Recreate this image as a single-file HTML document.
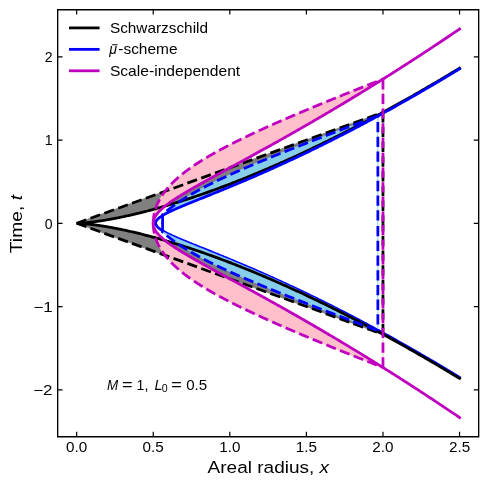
<!DOCTYPE html>
<html><head><meta charset="utf-8"><title>chart</title><style>html,body{margin:0;padding:0;background:#fff;overflow:hidden}body{width:489px;height:488px;font-family:"Liberation Sans",sans-serif}</style></head><body>
<svg width="489" height="488" viewBox="0 0 489 488" style="display:block;will-change:transform">
<rect width="489" height="488" fill="#fff"/>
<defs><clipPath id="ax"><rect x="57.65" y="9.65" width="421.0" height="427.0"/></clipPath></defs>
<g clip-path="url(#ax)" fill="none" stroke-linejoin="miter">
<path transform="translate(0,-0.35)" d="M155.61,223.30 L155.61,223.42 L155.61,223.55 L155.62,223.67 L155.64,223.79 L155.65,223.92 L155.67,224.04 L155.70,224.17 L155.73,224.29 L155.76,224.41 L155.80,224.54 L155.84,224.66 L155.88,224.79 L155.93,224.91 L155.98,225.04 L156.04,225.16 L156.09,225.29 L156.16,225.41 L156.22,225.54 L156.30,225.66 L156.37,225.79 L156.45,225.91 L156.53,226.04 L156.62,226.16 L156.71,226.29 L156.80,226.42 L156.90,226.54 L157.00,226.67 L157.10,226.80 L157.21,226.92 L157.32,227.05 L157.44,227.18 L157.56,227.31 L157.69,227.44 L157.81,227.57 L157.94,227.69 L158.08,227.82 L158.22,227.95 L158.36,228.08 L158.51,228.21 L158.66,228.34 L158.82,228.48 L158.97,228.61 L159.14,228.74 L159.30,228.87 L159.47,229.00 L159.65,229.14 L159.82,229.27 L160.00,229.40 L160.19,229.54 L160.38,229.67 L160.57,229.81 L160.77,229.94 L160.97,230.08 L161.17,230.22 L161.38,230.35 L161.59,230.49 L161.81,230.63 L162.03,230.77 L162.25,230.91 L162.48,231.05 L162.71,231.19 L162.94,231.33 L163.18,231.47 L163.43,231.61 L163.67,231.76 L163.92,231.90 L164.18,232.04 L164.43,232.19 L164.70,232.33 L164.96,232.48 L165.23,232.62 L165.50,232.77 L165.78,232.92 L166.06,233.07 L166.35,233.22 L166.63,233.37 L166.93,233.52 L167.22,233.67 L167.52,233.82 L167.82,233.97 L168.13,234.13 L168.44,234.28 L168.76,234.43 L169.08,234.59 L169.40,234.75 L169.73,234.90 L170.06,235.06 L170.39,235.22 L170.73,235.38 L171.07,235.54 L171.42,235.70 L171.77,235.86 L172.12,236.03 L172.48,236.19 L172.84,236.36 L173.20,236.52 L173.57,236.69 L173.94,236.86 L174.32,237.02 L174.70,237.19 L175.08,237.36 L175.47,237.54 L175.86,237.71 L176.26,237.88 L176.65,238.06 L177.06,238.23 L177.46,238.41 L177.87,238.58 L178.29,238.76 L178.71,238.94 L179.13,239.12 L179.55,239.30 L179.98,239.49 L180.42,239.67 L180.86,239.85 L181.30,240.04 L181.74,240.23 L182.19,240.42 L182.64,240.60 L183.10,240.79 L183.56,240.99 L184.02,241.18 L184.49,241.37 L184.96,241.57 L185.44,241.76 L185.92,241.96 L186.40,242.16 L186.89,242.36 L187.38,242.56 L187.87,242.76 L188.37,242.97 L188.87,243.17 L189.38,243.38 L189.89,243.58 L190.40,243.79 L190.92,244.00 L191.44,244.21 L191.96,244.43 L192.49,244.64 L193.03,244.86 L193.56,245.07 L194.10,245.29 L194.65,245.51 L195.19,245.73 L195.75,245.95 L196.30,246.18 L196.86,246.40 L197.42,246.63 L197.99,246.86 L198.56,247.09 L199.14,247.32 L199.72,247.55 L200.30,247.78 L200.88,248.02 L201.47,248.25 L202.07,248.49 L202.67,248.73 L203.27,248.97 L203.87,249.22 L204.48,249.46 L205.09,249.71 L205.71,249.96 L206.33,250.20 L206.96,250.46 L207.58,250.71 L208.22,250.96 L208.85,251.22 L209.49,251.48 L210.13,251.74 L210.78,252.00 L211.43,252.26 L212.09,252.52 L212.75,252.79 L213.41,253.06 L214.07,253.33 L214.74,253.60 L215.42,253.87 L216.10,254.14 L216.78,254.42 L217.46,254.70 L218.15,254.98 L218.85,255.26 L219.54,255.54 L220.24,255.83 L220.95,256.12 L221.66,256.41 L222.37,256.70 L223.08,256.99 L223.80,257.28 L224.53,257.58 L225.25,257.88 L225.99,258.18 L226.72,258.48 L227.46,258.79 L228.20,259.09 L228.95,259.40 L229.70,259.71 L230.45,260.02 L231.21,260.34 L231.97,260.65 L232.74,260.97 L233.51,261.29 L234.28,261.61 L235.06,261.94 L235.84,262.27 L236.62,262.59 L237.41,262.92 L238.20,263.26 L239.00,263.59 L239.80,263.93 L240.60,264.27 L241.41,264.61 L242.22,264.95 L243.04,265.30 L243.86,265.64 L244.68,265.99 L245.51,266.34 L246.34,266.70 L247.17,267.06 L248.01,267.41 L248.85,267.77 L249.70,268.14 L250.55,268.50 L251.40,268.87 L252.26,269.24 L253.12,269.61 L253.98,269.99 L254.85,270.36 L255.73,270.74 L256.60,271.12 L257.48,271.51 L258.37,271.89 L259.25,272.28 L260.15,272.67 L261.04,273.06 L261.94,273.46 L262.84,273.86 L263.75,274.26 L264.66,274.66 L265.58,275.06 L266.49,275.47 L267.42,275.88 L268.34,276.29 L269.27,276.71 L270.20,277.13 L271.14,277.55 L272.08,277.97 L273.03,278.39 L273.98,278.82 L274.93,279.25 L275.89,279.68 L276.85,280.12 L277.81,280.56 L278.78,281.00 L279.75,281.44 L280.73,281.89 L281.71,282.33 L282.69,282.78 L283.68,283.24 L284.67,283.69 L285.66,284.15 L286.66,284.61 L287.66,285.08 L288.67,285.55 L289.68,286.01 L290.69,286.49 L291.71,286.96 L292.73,287.44 L293.76,287.92 L294.79,288.40 L295.82,288.89 L296.86,289.38 L297.90,289.87 L298.94,290.36 L299.99,290.86 L301.04,291.36 L302.10,291.86 L303.16,292.37 L304.22,292.88 L305.29,293.39 L306.36,293.90 L307.43,294.42 L308.51,294.94 L309.59,295.46 L310.68,295.99 L311.77,296.52 L312.86,297.05 L313.96,297.58 L315.06,298.12 L316.17,298.66 L317.28,299.20 L318.39,299.75 L319.51,300.30 L320.63,300.85 L321.75,301.41 L322.88,301.97 L324.01,302.53 L325.15,303.09 L326.29,303.66 L327.43,304.23 L328.58,304.81 L329.73,305.38 L330.89,305.96 L332.05,306.55 L333.21,307.13 L334.37,307.72 L335.54,308.32 L336.72,308.91 L337.90,309.51 L339.08,310.11 L340.26,310.72 L341.45,311.33 L342.65,311.94 L343.84,312.55 L345.04,313.17 L346.25,313.79 L347.46,314.42 L348.67,315.05 L349.89,315.68 L351.11,316.31 L352.33,316.95 L353.56,317.59 L354.79,318.24 L356.02,318.88 L357.26,319.53 L358.51,320.19 L359.75,320.85 L361.00,321.51 L362.26,322.17 L363.52,322.84 L364.78,323.51 L366.04,324.19 L367.31,324.87 L368.59,325.55 L369.86,326.23 L371.15,326.92 L372.43,327.61 L373.72,328.31 L375.01,329.01 L376.31,329.71 L377.61,330.42 L378.91,331.13 L380.22,331.84 L381.53,332.56 L382.85,333.28 L384.17,334.00 L385.49,334.73 L386.82,335.46 L388.15,336.19 L389.48,336.93 L390.82,337.68 L392.16,338.42 L393.51,339.17 L394.86,339.92 L396.21,340.68 L397.57,341.44 L398.93,342.20 L400.29,342.97 L401.66,343.74 L403.04,344.52 L404.41,345.30 L405.79,346.08 L407.18,346.86 L408.57,347.65 L409.96,348.45 L411.35,349.24 L412.75,350.05 L414.16,350.85 L415.56,351.66 L416.97,352.47 L418.39,353.29 L419.81,354.11 L421.23,354.93 L422.66,355.76 L424.09,356.59 L425.52,357.43 L426.96,358.27 L428.40,359.11 L429.84,359.96 L431.29,360.81 L432.75,361.67 L434.20,362.53 L435.66,363.39 L437.13,364.26 L438.59,365.13 L440.07,366.00 L441.54,366.88 L443.02,367.76 L444.51,368.65 L445.99,369.54 L447.48,370.44 L448.98,371.34 L450.48,372.24 L451.98,373.15 L453.49,374.06 L455.00,374.97 L456.51,375.89 L458.03,376.82 L459.55,377.75" stroke="#0000ff" stroke-width="2.78" stroke-linecap="square" stroke-miterlimit="10"/>
<path d="M76.65,223.30 L76.71,223.30 L76.82,223.30 L76.96,223.30 L77.12,223.29 L77.31,223.29 L77.52,223.28 L77.75,223.28 L77.99,223.27 L78.25,223.26 L78.52,223.25 L78.81,223.23 L79.11,223.22 L79.43,223.20 L79.75,223.19 L80.09,223.17 L80.44,223.15 L80.80,223.12 L81.17,223.10 L81.56,223.07 L81.95,223.05 L82.35,223.02 L82.76,222.99 L83.19,222.95 L83.62,222.92 L84.06,222.88 L84.50,222.84 L84.96,222.80 L85.43,222.76 L85.90,222.72 L86.39,222.67 L86.88,222.62 L87.37,222.57 L87.88,222.52 L88.40,222.47 L88.92,222.41 L89.45,222.35 L89.98,222.29 L90.53,222.23 L91.08,222.17 L91.64,222.10 L92.20,222.03 L92.78,221.96 L93.36,221.89 L93.94,221.81 L94.53,221.73 L95.13,221.65 L95.74,221.57 L96.35,221.49 L96.97,221.40 L97.60,221.32 L98.23,221.22 L98.87,221.13 L99.51,221.04 L100.16,220.94 L100.82,220.84 L101.48,220.74 L102.15,220.63 L102.82,220.53 L103.50,220.42 L104.19,220.31 L104.88,220.20 L105.57,220.08 L106.28,219.96 L106.98,219.84 L107.70,219.72 L108.42,219.59 L109.14,219.47 L109.87,219.34 L110.61,219.20 L111.35,219.07 L112.10,218.93 L112.85,218.79 L113.60,218.65 L114.37,218.50 L115.13,218.36 L115.90,218.21 L116.68,218.06 L117.46,217.90 L118.25,217.74 L119.04,217.59 L119.84,217.42 L120.64,217.26 L121.45,217.09 L122.26,216.92 L123.08,216.75 L123.90,216.58 L124.73,216.40 L125.56,216.22 L126.40,216.04 L127.24,215.85 L128.08,215.66 L128.93,215.47 L129.79,215.28 L130.65,215.09 L131.51,214.89 L132.38,214.69 L133.25,214.48 L134.13,214.28 L135.01,214.07 L135.90,213.86 L136.79,213.64 L137.68,213.43 L138.58,213.21 L139.49,212.99 L140.40,212.76 L141.31,212.54 L142.23,212.31 L143.15,212.07 L144.07,211.84 L145.00,211.60 L145.94,211.36 L146.88,211.12 L147.82,210.87 L148.77,210.62 L149.72,210.37 L150.67,210.11 L151.63,209.86 L152.59,209.60 L153.56,209.33 L154.53,209.07 L155.51,208.80 L156.49,208.53 L157.47,208.26 L158.46,207.98 L159.45,207.70 L160.45,207.42 L161.45,207.13 L162.45,206.85 L163.46,206.55 L164.47,206.26 L165.48,205.97 L166.50,205.67 L167.53,205.36 L168.55,205.06 L169.58,204.75 L170.62,204.44 L171.66,204.13 L172.70,203.81 L173.74,203.49 L174.79,203.17 L175.85,202.84 L176.90,202.52 L177.96,202.19 L179.03,201.85 L180.10,201.52 L181.17,201.18 L182.25,200.83 L183.32,200.49 L184.41,200.14 L185.49,199.79 L186.58,199.44 L187.68,199.08 L188.78,198.72 L189.88,198.35 L190.98,197.99 L192.09,197.62 L193.20,197.25 L194.32,196.87 L195.44,196.50 L196.56,196.11 L197.68,195.73 L198.81,195.34 L199.95,194.95 L201.08,194.56 L202.22,194.17 L203.37,193.77 L204.51,193.37 L205.66,192.96 L206.82,192.55 L207.97,192.14 L209.13,191.73 L210.30,191.31 L211.46,190.89 L212.64,190.47 L213.81,190.04 L214.99,189.61 L216.17,189.18 L217.35,188.75 L218.54,188.31 L219.73,187.87 L220.92,187.42 L222.12,186.97 L223.32,186.52 L224.53,186.07 L225.73,185.61 L226.94,185.15 L228.16,184.69 L229.37,184.22 L230.59,183.75 L231.82,183.28 L233.04,182.81 L234.27,182.33 L235.51,181.85 L236.74,181.36 L237.98,180.87 L239.22,180.38 L240.47,179.89 L241.72,179.39 L242.97,178.89 L244.23,178.39 L245.49,177.88 L246.75,177.37 L248.01,176.86 L249.28,176.34 L250.55,175.82 L251.82,175.30 L253.10,174.77 L254.38,174.24 L255.66,173.71 L256.95,173.17 L258.24,172.64 L259.53,172.09 L260.83,171.55 L262.13,171.00 L263.43,170.45 L264.73,169.89 L266.04,169.34 L267.35,168.78 L268.66,168.21 L269.98,167.64 L271.30,167.07 L272.62,166.50 L273.95,165.92 L275.28,165.34 L276.61,164.76 L277.94,164.17 L279.28,163.58 L280.62,162.99 L281.97,162.39 L283.31,161.79 L284.66,161.19 L286.01,160.58 L287.37,159.97 L288.73,159.36 L290.09,158.74 L291.45,158.12 L292.82,157.50 L294.19,156.87 L295.56,156.24 L296.94,155.61 L298.31,154.97 L299.69,154.33 L301.08,153.69 L302.47,153.04 L303.85,152.39 L305.25,151.74 L306.64,151.08 L308.04,150.42 L309.44,149.76 L310.85,149.10 L312.25,148.43 L313.66,147.75 L315.07,147.08 L316.49,146.40 L317.91,145.71 L319.33,145.03 L320.75,144.34 L322.18,143.65 L323.61,142.95 L325.04,142.25 L326.47,141.55 L327.91,140.84 L329.35,140.13 L330.79,139.42 L332.24,138.70 L333.68,137.98 L335.14,137.26 L336.59,136.53 L338.04,135.80 L339.50,135.07 L340.97,134.33 L342.43,133.59 L343.90,132.85 L345.37,132.10 L346.84,131.35 L348.31,130.59 L349.79,129.84 L351.27,129.08 L352.76,128.31 L354.24,127.54 L355.73,126.77 L357.22,126.00 L358.71,125.22 L360.21,124.44 L361.71,123.65 L363.21,122.86 L364.72,122.07 L366.22,121.28 L367.73,120.48 L369.24,119.68 L370.76,118.87 L372.28,118.06 L373.80,117.25 L375.32,116.43 L376.84,115.61 L378.37,114.79 L379.90,113.96 L381.43,113.13 L382.97,112.30 L382.97,112.30 L381.43,112.86 L379.90,113.41 L378.37,113.97 L376.84,114.52 L375.32,115.07 L373.80,115.62 L372.28,116.18 L370.76,116.72 L369.24,117.27 L367.73,117.82 L366.22,118.37 L364.72,118.91 L363.21,119.46 L361.71,120.00 L360.21,120.55 L358.71,121.09 L357.22,121.63 L355.73,122.17 L354.24,122.71 L352.76,123.25 L351.27,123.79 L349.79,124.32 L348.31,124.86 L346.84,125.39 L345.37,125.93 L343.90,126.46 L342.43,126.99 L340.97,127.52 L339.50,128.05 L338.04,128.58 L336.59,129.11 L335.14,129.63 L333.68,130.16 L332.24,130.68 L330.79,131.21 L329.35,131.73 L327.91,132.25 L326.47,132.77 L325.04,133.29 L323.61,133.81 L322.18,134.33 L320.75,134.85 L319.33,135.36 L317.91,135.88 L316.49,136.39 L315.07,136.90 L313.66,137.42 L312.25,137.93 L310.85,138.44 L309.44,138.94 L308.04,139.45 L306.64,139.96 L305.25,140.46 L303.85,140.97 L302.47,141.47 L301.08,141.97 L299.69,142.48 L298.31,142.98 L296.94,143.48 L295.56,143.97 L294.19,144.47 L292.82,144.97 L291.45,145.46 L290.09,145.96 L288.73,146.45 L287.37,146.94 L286.01,147.43 L284.66,147.92 L283.31,148.41 L281.97,148.90 L280.62,149.39 L279.28,149.87 L277.94,150.36 L276.61,150.84 L275.28,151.32 L273.95,151.81 L272.62,152.29 L271.30,152.77 L269.98,153.24 L268.66,153.72 L267.35,154.20 L266.04,154.67 L264.73,155.15 L263.43,155.62 L262.13,156.09 L260.83,156.56 L259.53,157.03 L258.24,157.50 L256.95,157.97 L255.66,158.43 L254.38,158.90 L253.10,159.36 L251.82,159.82 L250.55,160.28 L249.28,160.75 L248.01,161.20 L246.75,161.66 L245.49,162.12 L244.23,162.58 L242.97,163.03 L241.72,163.48 L240.47,163.94 L239.22,164.39 L237.98,164.84 L236.74,165.29 L235.51,165.74 L234.27,166.18 L233.04,166.63 L231.82,167.07 L230.59,167.52 L229.37,167.96 L228.16,168.40 L226.94,168.84 L225.73,169.28 L224.53,169.72 L223.32,170.15 L222.12,170.59 L220.92,171.02 L219.73,171.45 L218.54,171.88 L217.35,172.31 L216.17,172.74 L214.99,173.17 L213.81,173.60 L212.64,174.02 L211.46,174.45 L210.30,174.87 L209.13,175.29 L207.97,175.71 L206.82,176.13 L205.66,176.55 L204.51,176.97 L203.37,177.38 L202.22,177.80 L201.08,178.21 L199.95,178.62 L198.81,179.03 L197.68,179.44 L196.56,179.85 L195.44,180.26 L194.32,180.66 L193.20,181.07 L192.09,181.47 L190.98,181.87 L189.88,182.27 L188.78,182.67 L187.68,183.07 L186.58,183.46 L185.49,183.86 L184.41,184.25 L183.32,184.64 L182.25,185.04 L181.17,185.43 L180.10,185.81 L179.03,186.20 L177.96,186.59 L176.90,186.97 L175.85,187.35 L174.79,187.74 L173.74,188.12 L172.70,188.50 L171.66,188.87 L170.62,189.25 L169.58,189.62 L168.55,190.00 L167.53,190.37 L166.50,190.74 L165.48,191.11 L164.47,191.48 L163.46,191.84 L162.45,192.21 L161.45,192.57 L160.45,192.94 L159.45,193.30 L158.46,193.66 L157.47,194.01 L156.49,194.37 L155.51,194.72 L154.53,195.08 L153.56,195.43 L152.59,195.78 L151.63,196.13 L150.67,196.48 L149.72,196.82 L148.77,197.17 L147.82,197.51 L146.88,197.85 L145.94,198.19 L145.00,198.53 L144.07,198.87 L143.15,199.20 L142.23,199.54 L141.31,199.87 L140.40,200.20 L139.49,200.53 L138.58,200.86 L137.68,201.18 L136.79,201.51 L135.90,201.83 L135.01,202.15 L134.13,202.47 L133.25,202.79 L132.38,203.11 L131.51,203.42 L130.65,203.73 L129.79,204.05 L128.93,204.35 L128.08,204.66 L127.24,204.97 L126.40,205.27 L125.56,205.58 L124.73,205.88 L123.90,206.18 L123.08,206.48 L122.26,206.77 L121.45,207.07 L120.64,207.36 L119.84,207.65 L119.04,207.94 L118.25,208.23 L117.46,208.51 L116.68,208.79 L115.90,209.08 L115.13,209.36 L114.37,209.63 L113.60,209.91 L112.85,210.18 L112.10,210.46 L111.35,210.73 L110.61,210.99 L109.87,211.26 L109.14,211.53 L108.42,211.79 L107.70,212.05 L106.98,212.31 L106.28,212.56 L105.57,212.82 L104.88,213.07 L104.19,213.32 L103.50,213.57 L102.82,213.82 L102.15,214.06 L101.48,214.30 L100.82,214.54 L100.16,214.78 L99.51,215.02 L98.87,215.25 L98.23,215.48 L97.60,215.71 L96.97,215.94 L96.35,216.16 L95.74,216.38 L95.13,216.60 L94.53,216.82 L93.94,217.03 L93.36,217.25 L92.78,217.46 L92.20,217.66 L91.64,217.87 L91.08,218.07 L90.53,218.27 L89.98,218.47 L89.45,218.66 L88.92,218.85 L88.40,219.04 L87.88,219.23 L87.37,219.41 L86.88,219.59 L86.39,219.77 L85.90,219.95 L85.43,220.12 L84.96,220.29 L84.50,220.45 L84.06,220.62 L83.62,220.78 L83.19,220.93 L82.76,221.08 L82.35,221.23 L81.95,221.38 L81.56,221.52 L81.17,221.66 L80.80,221.80 L80.44,221.93 L80.09,222.05 L79.75,222.18 L79.43,222.29 L79.11,222.41 L78.81,222.52 L78.52,222.62 L78.25,222.72 L77.99,222.81 L77.75,222.90 L77.52,222.98 L77.31,223.06 L77.12,223.13 L76.96,223.19 L76.82,223.24 L76.71,223.28 L76.65,223.30Z" fill="#808080" stroke="#808080" stroke-width="1" stroke-linejoin="round"/>
<path d="M76.65,223.30 L76.71,223.30 L76.82,223.30 L76.96,223.30 L77.12,223.31 L77.31,223.31 L77.52,223.32 L77.75,223.32 L77.99,223.33 L78.25,223.34 L78.52,223.35 L78.81,223.37 L79.11,223.38 L79.43,223.40 L79.75,223.41 L80.09,223.43 L80.44,223.45 L80.80,223.48 L81.17,223.50 L81.56,223.53 L81.95,223.55 L82.35,223.58 L82.76,223.61 L83.19,223.65 L83.62,223.68 L84.06,223.72 L84.50,223.76 L84.96,223.80 L85.43,223.84 L85.90,223.88 L86.39,223.93 L86.88,223.98 L87.37,224.03 L87.88,224.08 L88.40,224.13 L88.92,224.19 L89.45,224.25 L89.98,224.31 L90.53,224.37 L91.08,224.43 L91.64,224.50 L92.20,224.57 L92.78,224.64 L93.36,224.71 L93.94,224.79 L94.53,224.87 L95.13,224.95 L95.74,225.03 L96.35,225.11 L96.97,225.20 L97.60,225.28 L98.23,225.38 L98.87,225.47 L99.51,225.56 L100.16,225.66 L100.82,225.76 L101.48,225.86 L102.15,225.97 L102.82,226.07 L103.50,226.18 L104.19,226.29 L104.88,226.40 L105.57,226.52 L106.28,226.64 L106.98,226.76 L107.70,226.88 L108.42,227.01 L109.14,227.13 L109.87,227.26 L110.61,227.40 L111.35,227.53 L112.10,227.67 L112.85,227.81 L113.60,227.95 L114.37,228.10 L115.13,228.24 L115.90,228.39 L116.68,228.54 L117.46,228.70 L118.25,228.86 L119.04,229.01 L119.84,229.18 L120.64,229.34 L121.45,229.51 L122.26,229.68 L123.08,229.85 L123.90,230.02 L124.73,230.20 L125.56,230.38 L126.40,230.56 L127.24,230.75 L128.08,230.94 L128.93,231.13 L129.79,231.32 L130.65,231.51 L131.51,231.71 L132.38,231.91 L133.25,232.12 L134.13,232.32 L135.01,232.53 L135.90,232.74 L136.79,232.96 L137.68,233.17 L138.58,233.39 L139.49,233.61 L140.40,233.84 L141.31,234.06 L142.23,234.29 L143.15,234.53 L144.07,234.76 L145.00,235.00 L145.94,235.24 L146.88,235.48 L147.82,235.73 L148.77,235.98 L149.72,236.23 L150.67,236.49 L151.63,236.74 L152.59,237.00 L153.56,237.27 L154.53,237.53 L155.51,237.80 L156.49,238.07 L157.47,238.34 L158.46,238.62 L159.45,238.90 L160.45,239.18 L161.45,239.47 L162.45,239.75 L163.46,240.05 L164.47,240.34 L165.48,240.63 L166.50,240.93 L167.53,241.24 L168.55,241.54 L169.58,241.85 L170.62,242.16 L171.66,242.47 L172.70,242.79 L173.74,243.11 L174.79,243.43 L175.85,243.76 L176.90,244.08 L177.96,244.41 L179.03,244.75 L180.10,245.08 L181.17,245.42 L182.25,245.77 L183.32,246.11 L184.41,246.46 L185.49,246.81 L186.58,247.16 L187.68,247.52 L188.78,247.88 L189.88,248.25 L190.98,248.61 L192.09,248.98 L193.20,249.35 L194.32,249.73 L195.44,250.10 L196.56,250.49 L197.68,250.87 L198.81,251.26 L199.95,251.65 L201.08,252.04 L202.22,252.43 L203.37,252.83 L204.51,253.23 L205.66,253.64 L206.82,254.05 L207.97,254.46 L209.13,254.87 L210.30,255.29 L211.46,255.71 L212.64,256.13 L213.81,256.56 L214.99,256.99 L216.17,257.42 L217.35,257.85 L218.54,258.29 L219.73,258.73 L220.92,259.18 L222.12,259.63 L223.32,260.08 L224.53,260.53 L225.73,260.99 L226.94,261.45 L228.16,261.91 L229.37,262.38 L230.59,262.85 L231.82,263.32 L233.04,263.79 L234.27,264.27 L235.51,264.75 L236.74,265.24 L237.98,265.73 L239.22,266.22 L240.47,266.71 L241.72,267.21 L242.97,267.71 L244.23,268.21 L245.49,268.72 L246.75,269.23 L248.01,269.74 L249.28,270.26 L250.55,270.78 L251.82,271.30 L253.10,271.83 L254.38,272.36 L255.66,272.89 L256.95,273.43 L258.24,273.96 L259.53,274.51 L260.83,275.05 L262.13,275.60 L263.43,276.15 L264.73,276.71 L266.04,277.26 L267.35,277.82 L268.66,278.39 L269.98,278.96 L271.30,279.53 L272.62,280.10 L273.95,280.68 L275.28,281.26 L276.61,281.84 L277.94,282.43 L279.28,283.02 L280.62,283.61 L281.97,284.21 L283.31,284.81 L284.66,285.41 L286.01,286.02 L287.37,286.63 L288.73,287.24 L290.09,287.86 L291.45,288.48 L292.82,289.10 L294.19,289.73 L295.56,290.36 L296.94,290.99 L298.31,291.63 L299.69,292.27 L301.08,292.91 L302.47,293.56 L303.85,294.21 L305.25,294.86 L306.64,295.52 L308.04,296.18 L309.44,296.84 L310.85,297.50 L312.25,298.17 L313.66,298.85 L315.07,299.52 L316.49,300.20 L317.91,300.89 L319.33,301.57 L320.75,302.26 L322.18,302.95 L323.61,303.65 L325.04,304.35 L326.47,305.05 L327.91,305.76 L329.35,306.47 L330.79,307.18 L332.24,307.90 L333.68,308.62 L335.14,309.34 L336.59,310.07 L338.04,310.80 L339.50,311.53 L340.97,312.27 L342.43,313.01 L343.90,313.75 L345.37,314.50 L346.84,315.25 L348.31,316.01 L349.79,316.76 L351.27,317.52 L352.76,318.29 L354.24,319.06 L355.73,319.83 L357.22,320.60 L358.71,321.38 L360.21,322.16 L361.71,322.95 L363.21,323.74 L364.72,324.53 L366.22,325.32 L367.73,326.12 L369.24,326.92 L370.76,327.73 L372.28,328.54 L373.80,329.35 L375.32,330.17 L376.84,330.99 L378.37,331.81 L379.90,332.64 L381.43,333.47 L382.97,334.30 L382.97,334.30 L381.43,333.74 L379.90,333.19 L378.37,332.63 L376.84,332.08 L375.32,331.53 L373.80,330.98 L372.28,330.42 L370.76,329.88 L369.24,329.33 L367.73,328.78 L366.22,328.23 L364.72,327.69 L363.21,327.14 L361.71,326.60 L360.21,326.05 L358.71,325.51 L357.22,324.97 L355.73,324.43 L354.24,323.89 L352.76,323.35 L351.27,322.81 L349.79,322.28 L348.31,321.74 L346.84,321.21 L345.37,320.67 L343.90,320.14 L342.43,319.61 L340.97,319.08 L339.50,318.55 L338.04,318.02 L336.59,317.49 L335.14,316.97 L333.68,316.44 L332.24,315.92 L330.79,315.39 L329.35,314.87 L327.91,314.35 L326.47,313.83 L325.04,313.31 L323.61,312.79 L322.18,312.27 L320.75,311.75 L319.33,311.24 L317.91,310.72 L316.49,310.21 L315.07,309.70 L313.66,309.18 L312.25,308.67 L310.85,308.16 L309.44,307.66 L308.04,307.15 L306.64,306.64 L305.25,306.14 L303.85,305.63 L302.47,305.13 L301.08,304.63 L299.69,304.12 L298.31,303.62 L296.94,303.12 L295.56,302.63 L294.19,302.13 L292.82,301.63 L291.45,301.14 L290.09,300.64 L288.73,300.15 L287.37,299.66 L286.01,299.17 L284.66,298.68 L283.31,298.19 L281.97,297.70 L280.62,297.21 L279.28,296.73 L277.94,296.24 L276.61,295.76 L275.28,295.28 L273.95,294.79 L272.62,294.31 L271.30,293.83 L269.98,293.36 L268.66,292.88 L267.35,292.40 L266.04,291.93 L264.73,291.45 L263.43,290.98 L262.13,290.51 L260.83,290.04 L259.53,289.57 L258.24,289.10 L256.95,288.63 L255.66,288.17 L254.38,287.70 L253.10,287.24 L251.82,286.78 L250.55,286.32 L249.28,285.85 L248.01,285.40 L246.75,284.94 L245.49,284.48 L244.23,284.02 L242.97,283.57 L241.72,283.12 L240.47,282.66 L239.22,282.21 L237.98,281.76 L236.74,281.31 L235.51,280.86 L234.27,280.42 L233.04,279.97 L231.82,279.53 L230.59,279.08 L229.37,278.64 L228.16,278.20 L226.94,277.76 L225.73,277.32 L224.53,276.88 L223.32,276.45 L222.12,276.01 L220.92,275.58 L219.73,275.15 L218.54,274.72 L217.35,274.29 L216.17,273.86 L214.99,273.43 L213.81,273.00 L212.64,272.58 L211.46,272.15 L210.30,271.73 L209.13,271.31 L207.97,270.89 L206.82,270.47 L205.66,270.05 L204.51,269.63 L203.37,269.22 L202.22,268.80 L201.08,268.39 L199.95,267.98 L198.81,267.57 L197.68,267.16 L196.56,266.75 L195.44,266.34 L194.32,265.94 L193.20,265.53 L192.09,265.13 L190.98,264.73 L189.88,264.33 L188.78,263.93 L187.68,263.53 L186.58,263.14 L185.49,262.74 L184.41,262.35 L183.32,261.96 L182.25,261.56 L181.17,261.17 L180.10,260.79 L179.03,260.40 L177.96,260.01 L176.90,259.63 L175.85,259.25 L174.79,258.86 L173.74,258.48 L172.70,258.10 L171.66,257.73 L170.62,257.35 L169.58,256.98 L168.55,256.60 L167.53,256.23 L166.50,255.86 L165.48,255.49 L164.47,255.12 L163.46,254.76 L162.45,254.39 L161.45,254.03 L160.45,253.66 L159.45,253.30 L158.46,252.94 L157.47,252.59 L156.49,252.23 L155.51,251.88 L154.53,251.52 L153.56,251.17 L152.59,250.82 L151.63,250.47 L150.67,250.12 L149.72,249.78 L148.77,249.43 L147.82,249.09 L146.88,248.75 L145.94,248.41 L145.00,248.07 L144.07,247.73 L143.15,247.40 L142.23,247.06 L141.31,246.73 L140.40,246.40 L139.49,246.07 L138.58,245.74 L137.68,245.42 L136.79,245.09 L135.90,244.77 L135.01,244.45 L134.13,244.13 L133.25,243.81 L132.38,243.49 L131.51,243.18 L130.65,242.87 L129.79,242.55 L128.93,242.25 L128.08,241.94 L127.24,241.63 L126.40,241.33 L125.56,241.02 L124.73,240.72 L123.90,240.42 L123.08,240.12 L122.26,239.83 L121.45,239.53 L120.64,239.24 L119.84,238.95 L119.04,238.66 L118.25,238.37 L117.46,238.09 L116.68,237.81 L115.90,237.52 L115.13,237.24 L114.37,236.97 L113.60,236.69 L112.85,236.42 L112.10,236.14 L111.35,235.87 L110.61,235.61 L109.87,235.34 L109.14,235.07 L108.42,234.81 L107.70,234.55 L106.98,234.29 L106.28,234.04 L105.57,233.78 L104.88,233.53 L104.19,233.28 L103.50,233.03 L102.82,232.78 L102.15,232.54 L101.48,232.30 L100.82,232.06 L100.16,231.82 L99.51,231.58 L98.87,231.35 L98.23,231.12 L97.60,230.89 L96.97,230.66 L96.35,230.44 L95.74,230.22 L95.13,230.00 L94.53,229.78 L93.94,229.57 L93.36,229.35 L92.78,229.14 L92.20,228.94 L91.64,228.73 L91.08,228.53 L90.53,228.33 L89.98,228.13 L89.45,227.94 L88.92,227.75 L88.40,227.56 L87.88,227.37 L87.37,227.19 L86.88,227.01 L86.39,226.83 L85.90,226.65 L85.43,226.48 L84.96,226.31 L84.50,226.15 L84.06,225.98 L83.62,225.82 L83.19,225.67 L82.76,225.52 L82.35,225.37 L81.95,225.22 L81.56,225.08 L81.17,224.94 L80.80,224.80 L80.44,224.67 L80.09,224.55 L79.75,224.42 L79.43,224.31 L79.11,224.19 L78.81,224.08 L78.52,223.98 L78.25,223.88 L77.99,223.79 L77.75,223.70 L77.52,223.62 L77.31,223.54 L77.12,223.47 L76.96,223.41 L76.82,223.36 L76.71,223.32 L76.65,223.30Z" fill="#808080" stroke="#808080" stroke-width="1" stroke-linejoin="round"/>
<path d="M162.56,215.50 L162.61,215.47 L162.68,215.43 L162.78,215.37 L162.90,215.30 L163.03,215.22 L163.18,215.13 L163.34,215.04 L163.51,214.94 L163.69,214.84 L163.88,214.72 L164.08,214.61 L164.29,214.49 L164.52,214.37 L164.75,214.24 L164.98,214.11 L165.23,213.98 L165.48,213.84 L165.74,213.70 L166.01,213.56 L166.29,213.41 L166.57,213.27 L166.86,213.12 L167.16,212.96 L167.46,212.81 L167.77,212.66 L168.08,212.50 L168.41,212.34 L168.73,212.18 L169.07,212.01 L169.41,211.85 L169.75,211.68 L170.10,211.52 L170.46,211.35 L170.82,211.18 L171.19,211.00 L171.56,210.83 L171.94,210.66 L172.32,210.48 L172.71,210.30 L173.10,210.12 L173.50,209.94 L173.90,209.76 L174.31,209.58 L174.72,209.40 L175.13,209.21 L175.56,209.03 L175.98,208.84 L176.41,208.65 L176.85,208.46 L177.29,208.27 L177.73,208.08 L178.18,207.88 L178.63,207.69 L179.09,207.50 L179.55,207.30 L180.01,207.10 L180.48,206.90 L180.96,206.70 L181.44,206.50 L181.92,206.30 L182.40,206.10 L182.89,205.89 L183.39,205.69 L183.88,205.48 L184.39,205.27 L184.89,205.06 L185.40,204.85 L185.91,204.64 L186.43,204.43 L186.95,204.21 L187.48,204.00 L188.00,203.78 L188.54,203.57 L189.07,203.35 L189.61,203.13 L190.15,202.91 L190.70,202.69 L191.25,202.46 L191.80,202.24 L192.36,202.01 L192.92,201.79 L193.48,201.56 L194.05,201.33 L194.62,201.10 L195.20,200.87 L195.77,200.64 L196.35,200.40 L196.94,200.17 L197.53,199.93 L198.12,199.69 L198.71,199.46 L199.31,199.22 L199.91,198.97 L200.51,198.73 L201.12,198.49 L201.73,198.24 L202.35,198.00 L202.96,197.75 L203.58,197.50 L204.20,197.25 L204.83,197.00 L205.46,196.75 L206.09,196.49 L206.73,196.24 L207.37,195.98 L208.01,195.72 L208.65,195.46 L209.30,195.20 L209.95,194.94 L210.60,194.68 L211.26,194.41 L211.92,194.14 L212.58,193.88 L213.25,193.61 L213.92,193.34 L214.59,193.07 L215.26,192.79 L215.94,192.52 L216.62,192.24 L217.30,191.97 L217.99,191.69 L218.68,191.41 L219.37,191.13 L220.06,190.84 L220.76,190.56 L221.46,190.27 L222.16,189.99 L222.87,189.70 L223.57,189.41 L224.29,189.12 L225.00,188.83 L225.72,188.53 L226.43,188.24 L227.16,187.94 L227.88,187.64 L228.61,187.34 L229.34,187.04 L230.07,186.74 L230.80,186.43 L231.54,186.13 L232.28,185.82 L233.03,185.51 L233.77,185.20 L234.52,184.89 L235.27,184.57 L236.02,184.26 L236.78,183.94 L237.54,183.62 L238.30,183.30 L239.06,182.98 L239.83,182.66 L240.60,182.34 L241.37,182.01 L242.14,181.68 L242.92,181.35 L243.70,181.02 L244.48,180.69 L245.26,180.36 L246.05,180.02 L246.84,179.69 L247.63,179.35 L248.42,179.01 L249.22,178.67 L250.02,178.32 L250.82,177.98 L251.62,177.63 L252.43,177.29 L253.24,176.94 L254.05,176.59 L254.86,176.23 L255.68,175.88 L256.50,175.52 L257.32,175.17 L258.14,174.81 L258.96,174.45 L259.79,174.08 L260.62,173.72 L261.45,173.35 L262.29,172.99 L263.12,172.62 L263.96,172.25 L264.81,171.88 L265.65,171.50 L266.50,171.13 L267.34,170.75 L268.19,170.37 L269.05,169.99 L269.90,169.61 L270.76,169.22 L271.62,168.84 L272.48,168.45 L273.35,168.06 L274.21,167.67 L275.08,167.28 L275.95,166.89 L276.83,166.49 L277.70,166.09 L278.58,165.69 L279.46,165.29 L280.34,164.89 L281.23,164.49 L282.11,164.08 L283.00,163.67 L283.89,163.26 L284.79,162.85 L285.68,162.44 L286.58,162.02 L287.48,161.61 L288.38,161.19 L289.28,160.77 L290.19,160.35 L291.10,159.92 L292.01,159.50 L292.92,159.07 L293.84,158.64 L294.75,158.21 L295.67,157.78 L296.59,157.35 L297.52,156.91 L298.44,156.47 L299.37,156.03 L300.30,155.59 L301.23,155.15 L302.17,154.70 L303.10,154.26 L304.04,153.81 L304.98,153.36 L305.92,152.91 L306.87,152.45 L307.81,152.00 L308.76,151.54 L309.71,151.08 L310.66,150.62 L311.62,150.16 L312.57,149.69 L313.53,149.23 L314.49,148.76 L315.46,148.29 L316.42,147.82 L317.39,147.34 L318.36,146.87 L319.33,146.39 L320.30,145.91 L321.27,145.43 L322.25,144.94 L323.23,144.46 L324.21,143.97 L325.19,143.48 L326.18,142.99 L327.16,142.50 L328.15,142.01 L329.14,141.51 L330.14,141.01 L331.13,140.51 L332.13,140.01 L333.12,139.51 L334.13,139.00 L335.13,138.50 L336.13,137.99 L337.14,137.48 L338.15,136.96 L339.16,136.45 L340.17,135.93 L341.18,135.41 L342.20,134.89 L343.22,134.37 L344.24,133.85 L345.26,133.32 L346.28,132.79 L347.31,132.26 L348.33,131.73 L349.36,131.20 L350.39,130.66 L351.43,130.12 L352.46,129.58 L353.50,129.04 L354.54,128.50 L355.58,127.95 L356.62,127.40 L357.66,126.85 L358.71,126.30 L359.76,125.75 L360.81,125.20 L361.86,124.64 L362.91,124.08 L363.97,123.52 L365.03,122.96 L366.08,122.39 L367.15,121.82 L368.21,121.25 L369.27,120.68 L370.34,120.11 L371.41,119.54 L372.48,118.96 L373.55,118.38 L374.62,117.80 L375.70,117.22 L376.78,116.63 L377.86,116.05 L377.86,115.98 L376.78,116.38 L375.70,116.78 L374.62,117.19 L373.55,117.59 L372.48,117.99 L371.41,118.39 L370.34,118.79 L369.27,119.19 L368.21,119.59 L367.15,119.99 L366.08,120.39 L365.03,120.79 L363.97,121.19 L362.91,121.59 L361.86,121.98 L360.81,122.38 L359.76,122.77 L358.71,123.17 L357.66,123.56 L356.62,123.96 L355.58,124.35 L354.54,124.74 L353.50,125.14 L352.46,125.53 L351.43,125.92 L350.39,126.31 L349.36,126.70 L348.33,127.09 L347.31,127.48 L346.28,127.87 L345.26,128.26 L344.24,128.65 L343.22,129.03 L342.20,129.42 L341.18,129.81 L340.17,130.19 L339.16,130.58 L338.15,130.96 L337.14,131.34 L336.13,131.73 L335.13,132.11 L334.13,132.49 L333.12,132.88 L332.13,133.26 L331.13,133.64 L330.14,134.02 L329.14,134.40 L328.15,134.78 L327.16,135.16 L326.18,135.54 L325.19,135.91 L324.21,136.29 L323.23,136.67 L322.25,137.04 L321.27,137.42 L320.30,137.79 L319.33,138.17 L318.36,138.54 L317.39,138.92 L316.42,139.29 L315.46,139.66 L314.49,140.04 L313.53,140.41 L312.57,140.78 L311.62,141.15 L310.66,141.52 L309.71,141.89 L308.76,142.26 L307.81,142.63 L306.87,143.00 L305.92,143.37 L304.98,143.73 L304.04,144.10 L303.10,144.47 L302.17,144.83 L301.23,145.20 L300.30,145.56 L299.37,145.93 L298.44,146.29 L297.52,146.65 L296.59,147.02 L295.67,147.38 L294.75,147.74 L293.84,148.10 L292.92,148.47 L292.01,148.83 L291.10,149.19 L290.19,149.55 L289.28,149.91 L288.38,150.26 L287.48,150.62 L286.58,150.98 L285.68,151.34 L284.79,151.70 L283.89,152.05 L283.00,152.41 L282.11,152.76 L281.23,153.12 L280.34,153.47 L279.46,153.83 L278.58,154.18 L277.70,154.54 L276.83,154.89 L275.95,155.24 L275.08,155.59 L274.21,155.95 L273.35,156.30 L272.48,156.65 L271.62,157.00 L270.76,157.35 L269.90,157.70 L269.05,158.05 L268.19,158.40 L267.34,158.75 L266.50,159.09 L265.65,159.44 L264.81,159.79 L263.96,160.14 L263.12,160.48 L262.29,160.83 L261.45,161.17 L260.62,161.52 L259.79,161.87 L258.96,162.21 L258.14,162.55 L257.32,162.90 L256.50,163.24 L255.68,163.59 L254.86,163.93 L254.05,164.27 L253.24,164.61 L252.43,164.95 L251.62,165.30 L250.82,165.64 L250.02,165.98 L249.22,166.32 L248.42,166.66 L247.63,167.00 L246.84,167.34 L246.05,167.68 L245.26,168.02 L244.48,168.35 L243.70,168.69 L242.92,169.03 L242.14,169.37 L241.37,169.71 L240.60,170.04 L239.83,170.38 L239.06,170.72 L238.30,171.05 L237.54,171.39 L236.78,171.72 L236.02,172.06 L235.27,172.39 L234.52,172.73 L233.77,173.06 L233.03,173.40 L232.28,173.73 L231.54,174.06 L230.80,174.40 L230.07,174.73 L229.34,175.06 L228.61,175.40 L227.88,175.73 L227.16,176.06 L226.43,176.39 L225.72,176.72 L225.00,177.06 L224.29,177.39 L223.57,177.72 L222.87,178.05 L222.16,178.38 L221.46,178.71 L220.76,179.04 L220.06,179.37 L219.37,179.70 L218.68,180.03 L217.99,180.36 L217.30,180.69 L216.62,181.02 L215.94,181.35 L215.26,181.68 L214.59,182.01 L213.92,182.33 L213.25,182.66 L212.58,182.99 L211.92,183.32 L211.26,183.65 L210.60,183.97 L209.95,184.30 L209.30,184.63 L208.65,184.96 L208.01,185.28 L207.37,185.61 L206.73,185.94 L206.09,186.26 L205.46,186.59 L204.83,186.91 L204.20,187.24 L203.58,187.57 L202.96,187.89 L202.35,188.22 L201.73,188.54 L201.12,188.87 L200.51,189.19 L199.91,189.52 L199.31,189.84 L198.71,190.17 L198.12,190.49 L197.53,190.81 L196.94,191.14 L196.35,191.46 L195.77,191.79 L195.20,192.11 L194.62,192.43 L194.05,192.75 L193.48,193.08 L192.92,193.40 L192.36,193.72 L191.80,194.04 L191.25,194.36 L190.70,194.68 L190.15,195.00 L189.61,195.32 L189.07,195.64 L188.54,195.96 L188.00,196.28 L187.48,196.60 L186.95,196.92 L186.43,197.24 L185.91,197.56 L185.40,197.87 L184.89,198.19 L184.39,198.51 L183.88,198.82 L183.39,199.14 L182.89,199.45 L182.40,199.76 L181.92,200.08 L181.44,200.39 L180.96,200.70 L180.48,201.01 L180.01,201.32 L179.55,201.63 L179.09,201.94 L178.63,202.24 L178.18,202.55 L177.73,202.85 L177.29,203.16 L176.85,203.46 L176.41,203.76 L175.98,204.06 L175.56,204.36 L175.13,204.66 L174.72,204.96 L174.31,205.25 L173.90,205.54 L173.50,205.84 L173.10,206.12 L172.71,206.41 L172.32,206.70 L171.94,206.98 L171.56,207.26 L171.19,207.54 L170.82,207.82 L170.46,208.10 L170.10,208.37 L169.75,208.64 L169.41,208.91 L169.07,209.17 L168.73,209.43 L168.41,209.69 L168.08,209.94 L167.77,210.20 L167.46,210.44 L167.16,210.69 L166.86,210.93 L166.57,211.16 L166.29,211.40 L166.01,211.62 L165.74,211.85 L165.48,212.06 L165.23,212.27 L164.98,212.48 L164.75,212.68 L164.52,212.88 L164.29,213.06 L164.08,213.25 L163.88,213.42 L163.69,213.59 L163.51,213.74 L163.34,213.89 L163.18,214.03 L163.03,214.16 L162.90,214.27 L162.78,214.38 L162.68,214.46 L162.61,214.53 L162.56,214.57Z" fill="#87ceeb" stroke="#87ceeb" stroke-width="1" stroke-linejoin="round"/>
<path d="M162.56,231.10 L162.61,231.13 L162.68,231.17 L162.78,231.23 L162.90,231.30 L163.03,231.38 L163.18,231.47 L163.34,231.56 L163.51,231.66 L163.69,231.76 L163.88,231.88 L164.08,231.99 L164.29,232.11 L164.52,232.23 L164.75,232.36 L164.98,232.49 L165.23,232.62 L165.48,232.76 L165.74,232.90 L166.01,233.04 L166.29,233.19 L166.57,233.33 L166.86,233.48 L167.16,233.64 L167.46,233.79 L167.77,233.94 L168.08,234.10 L168.41,234.26 L168.73,234.42 L169.07,234.59 L169.41,234.75 L169.75,234.92 L170.10,235.08 L170.46,235.25 L170.82,235.42 L171.19,235.60 L171.56,235.77 L171.94,235.94 L172.32,236.12 L172.71,236.30 L173.10,236.48 L173.50,236.66 L173.90,236.84 L174.31,237.02 L174.72,237.20 L175.13,237.39 L175.56,237.57 L175.98,237.76 L176.41,237.95 L176.85,238.14 L177.29,238.33 L177.73,238.52 L178.18,238.72 L178.63,238.91 L179.09,239.10 L179.55,239.30 L180.01,239.50 L180.48,239.70 L180.96,239.90 L181.44,240.10 L181.92,240.30 L182.40,240.50 L182.89,240.71 L183.39,240.91 L183.88,241.12 L184.39,241.33 L184.89,241.54 L185.40,241.75 L185.91,241.96 L186.43,242.17 L186.95,242.39 L187.48,242.60 L188.00,242.82 L188.54,243.03 L189.07,243.25 L189.61,243.47 L190.15,243.69 L190.70,243.91 L191.25,244.14 L191.80,244.36 L192.36,244.59 L192.92,244.81 L193.48,245.04 L194.05,245.27 L194.62,245.50 L195.20,245.73 L195.77,245.96 L196.35,246.20 L196.94,246.43 L197.53,246.67 L198.12,246.91 L198.71,247.14 L199.31,247.38 L199.91,247.63 L200.51,247.87 L201.12,248.11 L201.73,248.36 L202.35,248.60 L202.96,248.85 L203.58,249.10 L204.20,249.35 L204.83,249.60 L205.46,249.85 L206.09,250.11 L206.73,250.36 L207.37,250.62 L208.01,250.88 L208.65,251.14 L209.30,251.40 L209.95,251.66 L210.60,251.92 L211.26,252.19 L211.92,252.46 L212.58,252.72 L213.25,252.99 L213.92,253.26 L214.59,253.53 L215.26,253.81 L215.94,254.08 L216.62,254.36 L217.30,254.63 L217.99,254.91 L218.68,255.19 L219.37,255.47 L220.06,255.76 L220.76,256.04 L221.46,256.33 L222.16,256.61 L222.87,256.90 L223.57,257.19 L224.29,257.48 L225.00,257.77 L225.72,258.07 L226.43,258.36 L227.16,258.66 L227.88,258.96 L228.61,259.26 L229.34,259.56 L230.07,259.86 L230.80,260.17 L231.54,260.47 L232.28,260.78 L233.03,261.09 L233.77,261.40 L234.52,261.71 L235.27,262.03 L236.02,262.34 L236.78,262.66 L237.54,262.98 L238.30,263.30 L239.06,263.62 L239.83,263.94 L240.60,264.26 L241.37,264.59 L242.14,264.92 L242.92,265.25 L243.70,265.58 L244.48,265.91 L245.26,266.24 L246.05,266.58 L246.84,266.91 L247.63,267.25 L248.42,267.59 L249.22,267.93 L250.02,268.28 L250.82,268.62 L251.62,268.97 L252.43,269.31 L253.24,269.66 L254.05,270.01 L254.86,270.37 L255.68,270.72 L256.50,271.08 L257.32,271.43 L258.14,271.79 L258.96,272.15 L259.79,272.52 L260.62,272.88 L261.45,273.25 L262.29,273.61 L263.12,273.98 L263.96,274.35 L264.81,274.72 L265.65,275.10 L266.50,275.47 L267.34,275.85 L268.19,276.23 L269.05,276.61 L269.90,276.99 L270.76,277.38 L271.62,277.76 L272.48,278.15 L273.35,278.54 L274.21,278.93 L275.08,279.32 L275.95,279.71 L276.83,280.11 L277.70,280.51 L278.58,280.91 L279.46,281.31 L280.34,281.71 L281.23,282.11 L282.11,282.52 L283.00,282.93 L283.89,283.34 L284.79,283.75 L285.68,284.16 L286.58,284.58 L287.48,284.99 L288.38,285.41 L289.28,285.83 L290.19,286.25 L291.10,286.68 L292.01,287.10 L292.92,287.53 L293.84,287.96 L294.75,288.39 L295.67,288.82 L296.59,289.25 L297.52,289.69 L298.44,290.13 L299.37,290.57 L300.30,291.01 L301.23,291.45 L302.17,291.90 L303.10,292.34 L304.04,292.79 L304.98,293.24 L305.92,293.69 L306.87,294.15 L307.81,294.60 L308.76,295.06 L309.71,295.52 L310.66,295.98 L311.62,296.44 L312.57,296.91 L313.53,297.37 L314.49,297.84 L315.46,298.31 L316.42,298.78 L317.39,299.26 L318.36,299.73 L319.33,300.21 L320.30,300.69 L321.27,301.17 L322.25,301.66 L323.23,302.14 L324.21,302.63 L325.19,303.12 L326.18,303.61 L327.16,304.10 L328.15,304.59 L329.14,305.09 L330.14,305.59 L331.13,306.09 L332.13,306.59 L333.12,307.09 L334.13,307.60 L335.13,308.10 L336.13,308.61 L337.14,309.12 L338.15,309.64 L339.16,310.15 L340.17,310.67 L341.18,311.19 L342.20,311.71 L343.22,312.23 L344.24,312.75 L345.26,313.28 L346.28,313.81 L347.31,314.34 L348.33,314.87 L349.36,315.40 L350.39,315.94 L351.43,316.48 L352.46,317.02 L353.50,317.56 L354.54,318.10 L355.58,318.65 L356.62,319.20 L357.66,319.75 L358.71,320.30 L359.76,320.85 L360.81,321.40 L361.86,321.96 L362.91,322.52 L363.97,323.08 L365.03,323.64 L366.08,324.21 L367.15,324.78 L368.21,325.35 L369.27,325.92 L370.34,326.49 L371.41,327.06 L372.48,327.64 L373.55,328.22 L374.62,328.80 L375.70,329.38 L376.78,329.97 L377.86,330.55 L377.86,330.62 L376.78,330.22 L375.70,329.82 L374.62,329.41 L373.55,329.01 L372.48,328.61 L371.41,328.21 L370.34,327.81 L369.27,327.41 L368.21,327.01 L367.15,326.61 L366.08,326.21 L365.03,325.81 L363.97,325.41 L362.91,325.01 L361.86,324.62 L360.81,324.22 L359.76,323.83 L358.71,323.43 L357.66,323.04 L356.62,322.64 L355.58,322.25 L354.54,321.86 L353.50,321.46 L352.46,321.07 L351.43,320.68 L350.39,320.29 L349.36,319.90 L348.33,319.51 L347.31,319.12 L346.28,318.73 L345.26,318.34 L344.24,317.95 L343.22,317.57 L342.20,317.18 L341.18,316.79 L340.17,316.41 L339.16,316.02 L338.15,315.64 L337.14,315.26 L336.13,314.87 L335.13,314.49 L334.13,314.11 L333.12,313.72 L332.13,313.34 L331.13,312.96 L330.14,312.58 L329.14,312.20 L328.15,311.82 L327.16,311.44 L326.18,311.06 L325.19,310.69 L324.21,310.31 L323.23,309.93 L322.25,309.56 L321.27,309.18 L320.30,308.81 L319.33,308.43 L318.36,308.06 L317.39,307.68 L316.42,307.31 L315.46,306.94 L314.49,306.56 L313.53,306.19 L312.57,305.82 L311.62,305.45 L310.66,305.08 L309.71,304.71 L308.76,304.34 L307.81,303.97 L306.87,303.60 L305.92,303.23 L304.98,302.87 L304.04,302.50 L303.10,302.13 L302.17,301.77 L301.23,301.40 L300.30,301.04 L299.37,300.67 L298.44,300.31 L297.52,299.95 L296.59,299.58 L295.67,299.22 L294.75,298.86 L293.84,298.50 L292.92,298.13 L292.01,297.77 L291.10,297.41 L290.19,297.05 L289.28,296.69 L288.38,296.34 L287.48,295.98 L286.58,295.62 L285.68,295.26 L284.79,294.90 L283.89,294.55 L283.00,294.19 L282.11,293.84 L281.23,293.48 L280.34,293.13 L279.46,292.77 L278.58,292.42 L277.70,292.06 L276.83,291.71 L275.95,291.36 L275.08,291.01 L274.21,290.65 L273.35,290.30 L272.48,289.95 L271.62,289.60 L270.76,289.25 L269.90,288.90 L269.05,288.55 L268.19,288.20 L267.34,287.85 L266.50,287.51 L265.65,287.16 L264.81,286.81 L263.96,286.46 L263.12,286.12 L262.29,285.77 L261.45,285.43 L260.62,285.08 L259.79,284.73 L258.96,284.39 L258.14,284.05 L257.32,283.70 L256.50,283.36 L255.68,283.01 L254.86,282.67 L254.05,282.33 L253.24,281.99 L252.43,281.65 L251.62,281.30 L250.82,280.96 L250.02,280.62 L249.22,280.28 L248.42,279.94 L247.63,279.60 L246.84,279.26 L246.05,278.92 L245.26,278.58 L244.48,278.25 L243.70,277.91 L242.92,277.57 L242.14,277.23 L241.37,276.89 L240.60,276.56 L239.83,276.22 L239.06,275.88 L238.30,275.55 L237.54,275.21 L236.78,274.88 L236.02,274.54 L235.27,274.21 L234.52,273.87 L233.77,273.54 L233.03,273.20 L232.28,272.87 L231.54,272.54 L230.80,272.20 L230.07,271.87 L229.34,271.54 L228.61,271.20 L227.88,270.87 L227.16,270.54 L226.43,270.21 L225.72,269.88 L225.00,269.54 L224.29,269.21 L223.57,268.88 L222.87,268.55 L222.16,268.22 L221.46,267.89 L220.76,267.56 L220.06,267.23 L219.37,266.90 L218.68,266.57 L217.99,266.24 L217.30,265.91 L216.62,265.58 L215.94,265.25 L215.26,264.92 L214.59,264.59 L213.92,264.27 L213.25,263.94 L212.58,263.61 L211.92,263.28 L211.26,262.95 L210.60,262.63 L209.95,262.30 L209.30,261.97 L208.65,261.64 L208.01,261.32 L207.37,260.99 L206.73,260.66 L206.09,260.34 L205.46,260.01 L204.83,259.69 L204.20,259.36 L203.58,259.03 L202.96,258.71 L202.35,258.38 L201.73,258.06 L201.12,257.73 L200.51,257.41 L199.91,257.08 L199.31,256.76 L198.71,256.43 L198.12,256.11 L197.53,255.79 L196.94,255.46 L196.35,255.14 L195.77,254.81 L195.20,254.49 L194.62,254.17 L194.05,253.85 L193.48,253.52 L192.92,253.20 L192.36,252.88 L191.80,252.56 L191.25,252.24 L190.70,251.92 L190.15,251.60 L189.61,251.28 L189.07,250.96 L188.54,250.64 L188.00,250.32 L187.48,250.00 L186.95,249.68 L186.43,249.36 L185.91,249.04 L185.40,248.73 L184.89,248.41 L184.39,248.09 L183.88,247.78 L183.39,247.46 L182.89,247.15 L182.40,246.84 L181.92,246.52 L181.44,246.21 L180.96,245.90 L180.48,245.59 L180.01,245.28 L179.55,244.97 L179.09,244.66 L178.63,244.36 L178.18,244.05 L177.73,243.75 L177.29,243.44 L176.85,243.14 L176.41,242.84 L175.98,242.54 L175.56,242.24 L175.13,241.94 L174.72,241.64 L174.31,241.35 L173.90,241.06 L173.50,240.76 L173.10,240.48 L172.71,240.19 L172.32,239.90 L171.94,239.62 L171.56,239.34 L171.19,239.06 L170.82,238.78 L170.46,238.50 L170.10,238.23 L169.75,237.96 L169.41,237.69 L169.07,237.43 L168.73,237.17 L168.41,236.91 L168.08,236.66 L167.77,236.40 L167.46,236.16 L167.16,235.91 L166.86,235.67 L166.57,235.44 L166.29,235.20 L166.01,234.98 L165.74,234.75 L165.48,234.54 L165.23,234.33 L164.98,234.12 L164.75,233.92 L164.52,233.72 L164.29,233.54 L164.08,233.35 L163.88,233.18 L163.69,233.01 L163.51,232.86 L163.34,232.71 L163.18,232.57 L163.03,232.44 L162.90,232.33 L162.78,232.22 L162.68,232.14 L162.61,232.07 L162.56,232.03Z" fill="#87ceeb" stroke="#87ceeb" stroke-width="0.3" stroke-linejoin="round"/>
<path d="M377.86,330.55 L377.86,116.05" stroke="#87ceeb" stroke-width="1"/>
<path d="M153.23,223.30 L153.23,223.12 L153.24,222.94 L153.24,222.76 L153.25,222.58 L153.27,222.40 L153.28,222.22 L153.30,222.03 L153.32,221.85 L153.35,221.67 L153.37,221.49 L153.40,221.31 L153.44,221.13 L153.47,220.95 L153.51,220.77 L153.55,220.59 L153.60,220.40 L153.65,220.22 L153.70,220.04 L153.75,219.86 L153.81,219.68 L153.87,219.49 L153.93,219.31 L153.99,219.13 L154.06,218.95 L154.13,218.76 L154.21,218.58 L154.28,218.40 L154.36,218.22 L154.44,218.03 L154.53,217.85 L154.62,217.66 L154.71,217.48 L154.80,217.30 L154.90,217.11 L155.00,216.93 L155.10,216.74 L155.21,216.56 L155.31,216.37 L155.42,216.19 L155.54,216.00 L155.66,215.81 L155.78,215.63 L155.90,215.44 L156.02,215.25 L156.15,215.07 L156.28,214.88 L156.42,214.69 L156.55,214.50 L156.69,214.31 L156.84,214.12 L156.98,213.93 L157.13,213.74 L157.28,213.55 L157.44,213.36 L157.60,213.17 L157.76,212.98 L157.92,212.79 L158.08,212.60 L158.25,212.41 L158.43,212.21 L158.60,212.02 L158.78,211.83 L158.96,211.63 L159.14,211.44 L159.33,211.24 L159.52,211.05 L159.71,210.85 L159.90,210.66 L160.10,210.46 L160.30,210.26 L160.50,210.06 L160.71,209.87 L160.92,209.67 L161.13,209.47 L161.35,209.27 L161.57,209.07 L161.79,208.87 L162.01,208.67 L162.24,208.47 L162.47,208.26 L162.70,208.06 L162.93,207.86 L163.17,207.65 L163.41,207.45 L163.66,207.24 L163.90,207.04 L164.15,206.83 L164.41,206.63 L164.66,206.42 L164.92,206.21 L165.18,206.00 L165.44,205.79 L165.71,205.58 L165.98,205.37 L166.25,205.16 L166.53,204.95 L166.81,204.74 L167.09,204.52 L167.37,204.31 L167.66,204.10 L167.95,203.88 L168.24,203.66 L168.54,203.45 L168.84,203.23 L169.14,203.01 L169.44,202.79 L169.75,202.58 L170.06,202.36 L170.38,202.13 L170.69,201.91 L171.01,201.69 L171.33,201.47 L171.66,201.24 L171.98,201.02 L172.31,200.79 L172.65,200.57 L172.98,200.34 L173.32,200.11 L173.67,199.88 L174.01,199.66 L174.36,199.43 L174.71,199.19 L175.06,198.96 L175.42,198.73 L175.78,198.50 L176.14,198.26 L176.51,198.03 L176.87,197.79 L177.24,197.55 L177.62,197.32 L177.99,197.08 L178.37,196.84 L178.76,196.60 L179.14,196.36 L179.53,196.11 L179.92,195.87 L180.32,195.63 L180.71,195.38 L181.11,195.14 L181.51,194.89 L181.92,194.64 L182.33,194.39 L182.74,194.14 L183.15,193.89 L183.57,193.64 L183.99,193.39 L184.41,193.13 L184.84,192.88 L185.27,192.62 L185.70,192.37 L186.13,192.11 L186.57,191.85 L187.01,191.59 L187.45,191.33 L187.90,191.07 L188.35,190.80 L188.80,190.54 L189.26,190.27 L189.71,190.01 L190.17,189.74 L190.64,189.47 L191.10,189.20 L191.57,188.93 L192.04,188.66 L192.52,188.39 L193.00,188.11 L193.48,187.84 L193.96,187.56 L194.45,187.28 L194.94,187.01 L195.43,186.73 L195.92,186.45 L196.42,186.16 L196.92,185.88 L197.42,185.60 L197.93,185.31 L198.44,185.02 L198.95,184.74 L199.47,184.45 L199.99,184.16 L200.51,183.86 L201.03,183.57 L201.56,183.28 L202.09,182.98 L202.62,182.69 L203.15,182.39 L203.69,182.09 L204.23,181.79 L204.78,181.49 L205.33,181.18 L205.88,180.88 L206.43,180.57 L206.98,180.27 L207.54,179.96 L208.10,179.65 L208.67,179.34 L209.23,179.03 L209.80,178.71 L210.38,178.40 L210.95,178.08 L211.53,177.76 L212.11,177.44 L212.70,177.12 L213.29,176.80 L213.88,176.48 L214.47,176.16 L215.06,175.83 L215.66,175.50 L216.27,175.17 L216.87,174.84 L217.48,174.51 L218.09,174.18 L218.70,173.84 L219.32,173.51 L219.94,173.17 L220.56,172.83 L221.18,172.49 L221.81,172.15 L222.44,171.81 L223.08,171.46 L223.71,171.12 L224.35,170.77 L224.99,170.42 L225.64,170.07 L226.29,169.72 L226.94,169.36 L227.59,169.01 L228.25,168.65 L228.91,168.29 L229.57,167.93 L230.23,167.57 L230.90,167.21 L231.57,166.84 L232.25,166.48 L232.92,166.11 L233.60,165.74 L234.29,165.37 L234.97,164.99 L235.66,164.62 L236.35,164.24 L237.05,163.87 L237.74,163.49 L238.44,163.11 L239.15,162.72 L239.85,162.34 L240.56,161.95 L241.27,161.57 L241.99,161.18 L242.70,160.78 L243.42,160.39 L244.15,160.00 L244.87,159.60 L245.60,159.20 L246.33,158.80 L247.07,158.40 L247.80,158.00 L248.54,157.60 L249.29,157.19 L250.03,156.78 L250.78,156.37 L251.53,155.96 L252.29,155.55 L253.05,155.13 L253.81,154.71 L254.57,154.29 L255.34,153.87 L256.11,153.45 L256.88,153.03 L257.65,152.60 L258.43,152.17 L259.21,151.74 L259.99,151.31 L260.78,150.88 L261.57,150.44 L262.36,150.00 L263.16,149.57 L263.96,149.12 L264.76,148.68 L265.56,148.24 L266.37,147.79 L267.18,147.34 L267.99,146.89 L268.80,146.44 L269.62,145.98 L270.44,145.53 L271.27,145.07 L272.10,144.61 L272.92,144.15 L273.76,143.68 L274.59,143.22 L275.43,142.75 L276.27,142.28 L277.12,141.81 L277.96,141.33 L278.81,140.86 L279.67,140.38 L280.52,139.90 L281.38,139.42 L282.24,138.93 L283.11,138.45 L283.97,137.96 L284.84,137.47 L285.72,136.98 L286.59,136.48 L287.47,135.99 L288.35,135.49 L289.24,134.99 L290.13,134.48 L291.02,133.98 L291.91,133.47 L292.81,132.96 L293.71,132.45 L294.61,131.94 L295.51,131.42 L296.42,130.91 L297.33,130.39 L298.24,129.86 L299.16,129.34 L300.08,128.81 L301.00,128.29 L301.93,127.76 L302.85,127.22 L303.79,126.69 L304.72,126.15 L305.66,125.61 L306.59,125.07 L307.54,124.53 L308.48,123.98 L309.43,123.43 L310.38,122.88 L311.34,122.33 L312.29,121.78 L313.25,121.22 L314.21,120.66 L315.18,120.10 L316.15,119.53 L317.12,118.97 L318.09,118.40 L319.07,117.83 L320.05,117.25 L321.03,116.68 L322.02,116.10 L323.01,115.52 L324.00,114.94 L324.99,114.35 L325.99,113.77 L326.99,113.18 L327.99,112.59 L329.00,111.99 L330.01,111.39 L331.02,110.80 L332.03,110.19 L333.05,109.59 L334.07,108.98 L335.09,108.38 L336.12,107.76 L337.15,107.15 L338.18,106.53 L339.22,105.92 L340.25,105.30 L341.29,104.67 L342.34,104.05 L343.38,103.42 L344.43,102.79 L345.48,102.16 L346.54,101.52 L347.60,100.88 L348.66,100.24 L349.72,99.60 L350.79,98.95 L351.86,98.30 L352.93,97.65 L354.00,97.00 L355.08,96.34 L356.16,95.69 L357.25,95.03 L358.33,94.36 L359.42,93.70 L360.52,93.03 L361.61,92.36 L362.71,91.68 L363.81,91.01 L364.91,90.33 L366.02,89.65 L367.13,88.96 L368.24,88.28 L369.36,87.59 L370.48,86.89 L371.60,86.20 L372.72,85.50 L373.85,84.80 L374.98,84.10 L376.11,83.39 L377.25,82.69 L378.39,81.98 L379.53,81.26 L380.67,80.55 L381.82,79.83 L382.97,79.11 L382.97,79.11 L381.82,79.56 L380.67,80.01 L379.53,80.46 L378.39,80.91 L377.25,81.35 L376.11,81.80 L374.98,82.25 L373.85,82.69 L372.72,83.14 L371.60,83.58 L370.48,84.02 L369.36,84.47 L368.24,84.91 L367.13,85.35 L366.02,85.79 L364.91,86.23 L363.81,86.66 L362.71,87.10 L361.61,87.54 L360.52,87.97 L359.42,88.41 L358.33,88.84 L357.25,89.27 L356.16,89.71 L355.08,90.14 L354.00,90.57 L352.93,91.00 L351.86,91.43 L350.79,91.86 L349.72,92.28 L348.66,92.71 L347.60,93.14 L346.54,93.56 L345.48,93.98 L344.43,94.41 L343.38,94.83 L342.34,95.25 L341.29,95.67 L340.25,96.09 L339.22,96.51 L338.18,96.93 L337.15,97.35 L336.12,97.77 L335.09,98.18 L334.07,98.60 L333.05,99.01 L332.03,99.43 L331.02,99.84 L330.01,100.25 L329.00,100.66 L327.99,101.07 L326.99,101.48 L325.99,101.89 L324.99,102.30 L324.00,102.71 L323.01,103.12 L322.02,103.52 L321.03,103.93 L320.05,104.33 L319.07,104.74 L318.09,105.14 L317.12,105.54 L316.15,105.95 L315.18,106.35 L314.21,106.75 L313.25,107.15 L312.29,107.55 L311.34,107.94 L310.38,108.34 L309.43,108.74 L308.48,109.14 L307.54,109.53 L306.59,109.93 L305.66,110.32 L304.72,110.71 L303.79,111.10 L302.85,111.50 L301.93,111.89 L301.00,112.28 L300.08,112.67 L299.16,113.06 L298.24,113.45 L297.33,113.83 L296.42,114.22 L295.51,114.61 L294.61,114.99 L293.71,115.38 L292.81,115.76 L291.91,116.14 L291.02,116.53 L290.13,116.91 L289.24,117.29 L288.35,117.67 L287.47,118.05 L286.59,118.43 L285.72,118.81 L284.84,119.19 L283.97,119.57 L283.11,119.94 L282.24,120.32 L281.38,120.70 L280.52,121.07 L279.67,121.44 L278.81,121.82 L277.96,122.19 L277.12,122.56 L276.27,122.94 L275.43,123.31 L274.59,123.68 L273.76,124.05 L272.92,124.42 L272.10,124.79 L271.27,125.15 L270.44,125.52 L269.62,125.89 L268.80,126.26 L267.99,126.62 L267.18,126.99 L266.37,127.35 L265.56,127.72 L264.76,128.08 L263.96,128.44 L263.16,128.81 L262.36,129.17 L261.57,129.53 L260.78,129.89 L259.99,130.25 L259.21,130.61 L258.43,130.97 L257.65,131.33 L256.88,131.68 L256.11,132.04 L255.34,132.40 L254.57,132.76 L253.81,133.11 L253.05,133.47 L252.29,133.82 L251.53,134.18 L250.78,134.53 L250.03,134.88 L249.29,135.24 L248.54,135.59 L247.80,135.94 L247.07,136.29 L246.33,136.64 L245.60,136.99 L244.87,137.34 L244.15,137.69 L243.42,138.04 L242.70,138.39 L241.99,138.74 L241.27,139.09 L240.56,139.44 L239.85,139.78 L239.15,140.13 L238.44,140.47 L237.74,140.82 L237.05,141.16 L236.35,141.51 L235.66,141.85 L234.97,142.20 L234.29,142.54 L233.60,142.88 L232.92,143.23 L232.25,143.57 L231.57,143.91 L230.90,144.25 L230.23,144.59 L229.57,144.93 L228.91,145.28 L228.25,145.62 L227.59,145.95 L226.94,146.29 L226.29,146.63 L225.64,146.97 L224.99,147.31 L224.35,147.65 L223.71,147.99 L223.08,148.32 L222.44,148.66 L221.81,149.00 L221.18,149.33 L220.56,149.67 L219.94,150.00 L219.32,150.34 L218.70,150.68 L218.09,151.01 L217.48,151.35 L216.87,151.68 L216.27,152.01 L215.66,152.35 L215.06,152.68 L214.47,153.01 L213.88,153.35 L213.29,153.68 L212.70,154.01 L212.11,154.35 L211.53,154.68 L210.95,155.01 L210.38,155.34 L209.80,155.67 L209.23,156.00 L208.67,156.33 L208.10,156.67 L207.54,157.00 L206.98,157.33 L206.43,157.66 L205.88,157.99 L205.33,158.32 L204.78,158.65 L204.23,158.98 L203.69,159.31 L203.15,159.64 L202.62,159.97 L202.09,160.30 L201.56,160.62 L201.03,160.95 L200.51,161.28 L199.99,161.61 L199.47,161.94 L198.95,162.27 L198.44,162.60 L197.93,162.92 L197.42,163.25 L196.92,163.58 L196.42,163.91 L195.92,164.24 L195.43,164.57 L194.94,164.89 L194.45,165.22 L193.96,165.55 L193.48,165.88 L193.00,166.21 L192.52,166.53 L192.04,166.86 L191.57,167.19 L191.10,167.52 L190.64,167.84 L190.17,168.17 L189.71,168.50 L189.26,168.83 L188.80,169.16 L188.35,169.48 L187.90,169.81 L187.45,170.14 L187.01,170.47 L186.57,170.80 L186.13,171.13 L185.70,171.45 L185.27,171.78 L184.84,172.11 L184.41,172.44 L183.99,172.77 L183.57,173.10 L183.15,173.42 L182.74,173.75 L182.33,174.08 L181.92,174.41 L181.51,174.74 L181.11,175.07 L180.71,175.40 L180.32,175.73 L179.92,176.06 L179.53,176.39 L179.14,176.72 L178.76,177.05 L178.37,177.38 L177.99,177.71 L177.62,178.04 L177.24,178.37 L176.87,178.70 L176.51,179.04 L176.14,179.37 L175.78,179.70 L175.42,180.03 L175.06,180.36 L174.71,180.69 L174.36,181.03 L174.01,181.36 L173.67,181.69 L173.32,182.03 L172.98,182.36 L172.65,182.69 L172.31,183.03 L171.98,183.36 L171.66,183.70 L171.33,184.03 L171.01,184.37 L170.69,184.70 L170.38,185.04 L170.06,185.37 L169.75,185.71 L169.44,186.04 L169.14,186.38 L168.84,186.72 L168.54,187.05 L168.24,187.39 L167.95,187.73 L167.66,188.07 L167.37,188.41 L167.09,188.74 L166.81,189.08 L166.53,189.42 L166.25,189.76 L165.98,190.10 L165.71,190.44 L165.44,190.78 L165.18,191.12 L164.92,191.46 L164.66,191.81 L164.41,192.15 L164.15,192.49 L163.90,192.83 L163.66,193.17 L163.41,193.52 L163.17,193.86 L162.93,194.20 L162.70,194.55 L162.47,194.89 L162.24,195.24 L162.01,195.58 L161.79,195.93 L161.57,196.27 L161.35,196.62 L161.13,196.96 L160.92,197.31 L160.71,197.66 L160.50,198.00 L160.30,198.35 L160.10,198.70 L159.90,199.05 L159.71,199.39 L159.52,199.74 L159.33,200.09 L159.14,200.44 L158.96,200.79 L158.78,201.14 L158.60,201.49 L158.43,201.84 L158.25,202.19 L158.08,202.54 L157.92,202.90 L157.76,203.25 L157.60,203.60 L157.44,203.95 L157.28,204.30 L157.13,204.66 L156.98,205.01 L156.84,205.36 L156.69,205.72 L156.55,206.07 L156.42,206.43 L156.28,206.78 L156.15,207.14 L156.02,207.49 L155.90,207.85 L155.78,208.20 L155.66,208.56 L155.54,208.91 L155.42,209.27 L155.31,209.63 L155.21,209.98 L155.10,210.34 L155.00,210.70 L154.90,211.06 L154.80,211.41 L154.71,211.77 L154.62,212.13 L154.53,212.49 L154.44,212.85 L154.36,213.21 L154.28,213.56 L154.21,213.92 L154.13,214.28 L154.06,214.64 L153.99,215.00 L153.93,215.36 L153.87,215.72 L153.81,216.08 L153.75,216.44 L153.70,216.80 L153.65,217.16 L153.60,217.52 L153.55,217.88 L153.51,218.24 L153.47,218.60 L153.44,218.97 L153.40,219.33 L153.37,219.69 L153.35,220.05 L153.32,220.41 L153.30,220.77 L153.28,221.13 L153.27,221.49 L153.25,221.85 L153.24,222.22 L153.24,222.58 L153.23,222.94 L153.23,223.30Z" fill="#ffc0cb" stroke="#ffc0cb" stroke-width="1" stroke-linejoin="round"/>
<path d="M153.23,223.30 L153.23,223.48 L153.24,223.66 L153.24,223.84 L153.25,224.02 L153.27,224.20 L153.28,224.38 L153.30,224.57 L153.32,224.75 L153.35,224.93 L153.37,225.11 L153.40,225.29 L153.44,225.47 L153.47,225.65 L153.51,225.83 L153.55,226.01 L153.60,226.20 L153.65,226.38 L153.70,226.56 L153.75,226.74 L153.81,226.92 L153.87,227.11 L153.93,227.29 L153.99,227.47 L154.06,227.65 L154.13,227.84 L154.21,228.02 L154.28,228.20 L154.36,228.38 L154.44,228.57 L154.53,228.75 L154.62,228.94 L154.71,229.12 L154.80,229.30 L154.90,229.49 L155.00,229.67 L155.10,229.86 L155.21,230.04 L155.31,230.23 L155.42,230.41 L155.54,230.60 L155.66,230.79 L155.78,230.97 L155.90,231.16 L156.02,231.35 L156.15,231.53 L156.28,231.72 L156.42,231.91 L156.55,232.10 L156.69,232.29 L156.84,232.48 L156.98,232.67 L157.13,232.86 L157.28,233.05 L157.44,233.24 L157.60,233.43 L157.76,233.62 L157.92,233.81 L158.08,234.00 L158.25,234.19 L158.43,234.39 L158.60,234.58 L158.78,234.77 L158.96,234.97 L159.14,235.16 L159.33,235.36 L159.52,235.55 L159.71,235.75 L159.90,235.94 L160.10,236.14 L160.30,236.34 L160.50,236.54 L160.71,236.73 L160.92,236.93 L161.13,237.13 L161.35,237.33 L161.57,237.53 L161.79,237.73 L162.01,237.93 L162.24,238.13 L162.47,238.34 L162.70,238.54 L162.93,238.74 L163.17,238.95 L163.41,239.15 L163.66,239.36 L163.90,239.56 L164.15,239.77 L164.41,239.97 L164.66,240.18 L164.92,240.39 L165.18,240.60 L165.44,240.81 L165.71,241.02 L165.98,241.23 L166.25,241.44 L166.53,241.65 L166.81,241.86 L167.09,242.08 L167.37,242.29 L167.66,242.50 L167.95,242.72 L168.24,242.94 L168.54,243.15 L168.84,243.37 L169.14,243.59 L169.44,243.81 L169.75,244.02 L170.06,244.24 L170.38,244.47 L170.69,244.69 L171.01,244.91 L171.33,245.13 L171.66,245.36 L171.98,245.58 L172.31,245.81 L172.65,246.03 L172.98,246.26 L173.32,246.49 L173.67,246.72 L174.01,246.94 L174.36,247.17 L174.71,247.41 L175.06,247.64 L175.42,247.87 L175.78,248.10 L176.14,248.34 L176.51,248.57 L176.87,248.81 L177.24,249.05 L177.62,249.28 L177.99,249.52 L178.37,249.76 L178.76,250.00 L179.14,250.24 L179.53,250.49 L179.92,250.73 L180.32,250.97 L180.71,251.22 L181.11,251.46 L181.51,251.71 L181.92,251.96 L182.33,252.21 L182.74,252.46 L183.15,252.71 L183.57,252.96 L183.99,253.21 L184.41,253.47 L184.84,253.72 L185.27,253.98 L185.70,254.23 L186.13,254.49 L186.57,254.75 L187.01,255.01 L187.45,255.27 L187.90,255.53 L188.35,255.80 L188.80,256.06 L189.26,256.33 L189.71,256.59 L190.17,256.86 L190.64,257.13 L191.10,257.40 L191.57,257.67 L192.04,257.94 L192.52,258.21 L193.00,258.49 L193.48,258.76 L193.96,259.04 L194.45,259.32 L194.94,259.59 L195.43,259.87 L195.92,260.15 L196.42,260.44 L196.92,260.72 L197.42,261.00 L197.93,261.29 L198.44,261.58 L198.95,261.86 L199.47,262.15 L199.99,262.44 L200.51,262.74 L201.03,263.03 L201.56,263.32 L202.09,263.62 L202.62,263.91 L203.15,264.21 L203.69,264.51 L204.23,264.81 L204.78,265.11 L205.33,265.42 L205.88,265.72 L206.43,266.03 L206.98,266.33 L207.54,266.64 L208.10,266.95 L208.67,267.26 L209.23,267.57 L209.80,267.89 L210.38,268.20 L210.95,268.52 L211.53,268.84 L212.11,269.16 L212.70,269.48 L213.29,269.80 L213.88,270.12 L214.47,270.44 L215.06,270.77 L215.66,271.10 L216.27,271.43 L216.87,271.76 L217.48,272.09 L218.09,272.42 L218.70,272.76 L219.32,273.09 L219.94,273.43 L220.56,273.77 L221.18,274.11 L221.81,274.45 L222.44,274.79 L223.08,275.14 L223.71,275.48 L224.35,275.83 L224.99,276.18 L225.64,276.53 L226.29,276.88 L226.94,277.24 L227.59,277.59 L228.25,277.95 L228.91,278.31 L229.57,278.67 L230.23,279.03 L230.90,279.39 L231.57,279.76 L232.25,280.12 L232.92,280.49 L233.60,280.86 L234.29,281.23 L234.97,281.61 L235.66,281.98 L236.35,282.36 L237.05,282.73 L237.74,283.11 L238.44,283.49 L239.15,283.88 L239.85,284.26 L240.56,284.65 L241.27,285.03 L241.99,285.42 L242.70,285.82 L243.42,286.21 L244.15,286.60 L244.87,287.00 L245.60,287.40 L246.33,287.80 L247.07,288.20 L247.80,288.60 L248.54,289.00 L249.29,289.41 L250.03,289.82 L250.78,290.23 L251.53,290.64 L252.29,291.05 L253.05,291.47 L253.81,291.89 L254.57,292.31 L255.34,292.73 L256.11,293.15 L256.88,293.57 L257.65,294.00 L258.43,294.43 L259.21,294.86 L259.99,295.29 L260.78,295.72 L261.57,296.16 L262.36,296.60 L263.16,297.03 L263.96,297.48 L264.76,297.92 L265.56,298.36 L266.37,298.81 L267.18,299.26 L267.99,299.71 L268.80,300.16 L269.62,300.62 L270.44,301.07 L271.27,301.53 L272.10,301.99 L272.92,302.45 L273.76,302.92 L274.59,303.38 L275.43,303.85 L276.27,304.32 L277.12,304.79 L277.96,305.27 L278.81,305.74 L279.67,306.22 L280.52,306.70 L281.38,307.18 L282.24,307.67 L283.11,308.15 L283.97,308.64 L284.84,309.13 L285.72,309.62 L286.59,310.12 L287.47,310.61 L288.35,311.11 L289.24,311.61 L290.13,312.12 L291.02,312.62 L291.91,313.13 L292.81,313.64 L293.71,314.15 L294.61,314.66 L295.51,315.18 L296.42,315.69 L297.33,316.21 L298.24,316.74 L299.16,317.26 L300.08,317.79 L301.00,318.31 L301.93,318.84 L302.85,319.38 L303.79,319.91 L304.72,320.45 L305.66,320.99 L306.59,321.53 L307.54,322.07 L308.48,322.62 L309.43,323.17 L310.38,323.72 L311.34,324.27 L312.29,324.82 L313.25,325.38 L314.21,325.94 L315.18,326.50 L316.15,327.07 L317.12,327.63 L318.09,328.20 L319.07,328.77 L320.05,329.35 L321.03,329.92 L322.02,330.50 L323.01,331.08 L324.00,331.66 L324.99,332.25 L325.99,332.83 L326.99,333.42 L327.99,334.01 L329.00,334.61 L330.01,335.21 L331.02,335.80 L332.03,336.41 L333.05,337.01 L334.07,337.62 L335.09,338.22 L336.12,338.84 L337.15,339.45 L338.18,340.07 L339.22,340.68 L340.25,341.30 L341.29,341.93 L342.34,342.55 L343.38,343.18 L344.43,343.81 L345.48,344.44 L346.54,345.08 L347.60,345.72 L348.66,346.36 L349.72,347.00 L350.79,347.65 L351.86,348.30 L352.93,348.95 L354.00,349.60 L355.08,350.26 L356.16,350.91 L357.25,351.57 L358.33,352.24 L359.42,352.90 L360.52,353.57 L361.61,354.24 L362.71,354.92 L363.81,355.59 L364.91,356.27 L366.02,356.95 L367.13,357.64 L368.24,358.32 L369.36,359.01 L370.48,359.71 L371.60,360.40 L372.72,361.10 L373.85,361.80 L374.98,362.50 L376.11,363.21 L377.25,363.91 L378.39,364.62 L379.53,365.34 L380.67,366.05 L381.82,366.77 L382.97,367.49 L382.97,367.49 L381.82,367.04 L380.67,366.59 L379.53,366.14 L378.39,365.69 L377.25,365.25 L376.11,364.80 L374.98,364.35 L373.85,363.91 L372.72,363.46 L371.60,363.02 L370.48,362.58 L369.36,362.13 L368.24,361.69 L367.13,361.25 L366.02,360.81 L364.91,360.37 L363.81,359.94 L362.71,359.50 L361.61,359.06 L360.52,358.63 L359.42,358.19 L358.33,357.76 L357.25,357.33 L356.16,356.89 L355.08,356.46 L354.00,356.03 L352.93,355.60 L351.86,355.17 L350.79,354.74 L349.72,354.32 L348.66,353.89 L347.60,353.46 L346.54,353.04 L345.48,352.62 L344.43,352.19 L343.38,351.77 L342.34,351.35 L341.29,350.93 L340.25,350.51 L339.22,350.09 L338.18,349.67 L337.15,349.25 L336.12,348.83 L335.09,348.42 L334.07,348.00 L333.05,347.59 L332.03,347.17 L331.02,346.76 L330.01,346.35 L329.00,345.94 L327.99,345.53 L326.99,345.12 L325.99,344.71 L324.99,344.30 L324.00,343.89 L323.01,343.48 L322.02,343.08 L321.03,342.67 L320.05,342.27 L319.07,341.86 L318.09,341.46 L317.12,341.06 L316.15,340.65 L315.18,340.25 L314.21,339.85 L313.25,339.45 L312.29,339.05 L311.34,338.66 L310.38,338.26 L309.43,337.86 L308.48,337.46 L307.54,337.07 L306.59,336.67 L305.66,336.28 L304.72,335.89 L303.79,335.50 L302.85,335.10 L301.93,334.71 L301.00,334.32 L300.08,333.93 L299.16,333.54 L298.24,333.15 L297.33,332.77 L296.42,332.38 L295.51,331.99 L294.61,331.61 L293.71,331.22 L292.81,330.84 L291.91,330.46 L291.02,330.07 L290.13,329.69 L289.24,329.31 L288.35,328.93 L287.47,328.55 L286.59,328.17 L285.72,327.79 L284.84,327.41 L283.97,327.03 L283.11,326.66 L282.24,326.28 L281.38,325.90 L280.52,325.53 L279.67,325.16 L278.81,324.78 L277.96,324.41 L277.12,324.04 L276.27,323.66 L275.43,323.29 L274.59,322.92 L273.76,322.55 L272.92,322.18 L272.10,321.81 L271.27,321.45 L270.44,321.08 L269.62,320.71 L268.80,320.34 L267.99,319.98 L267.18,319.61 L266.37,319.25 L265.56,318.88 L264.76,318.52 L263.96,318.16 L263.16,317.79 L262.36,317.43 L261.57,317.07 L260.78,316.71 L259.99,316.35 L259.21,315.99 L258.43,315.63 L257.65,315.27 L256.88,314.92 L256.11,314.56 L255.34,314.20 L254.57,313.84 L253.81,313.49 L253.05,313.13 L252.29,312.78 L251.53,312.42 L250.78,312.07 L250.03,311.72 L249.29,311.36 L248.54,311.01 L247.80,310.66 L247.07,310.31 L246.33,309.96 L245.60,309.61 L244.87,309.26 L244.15,308.91 L243.42,308.56 L242.70,308.21 L241.99,307.86 L241.27,307.51 L240.56,307.16 L239.85,306.82 L239.15,306.47 L238.44,306.13 L237.74,305.78 L237.05,305.44 L236.35,305.09 L235.66,304.75 L234.97,304.40 L234.29,304.06 L233.60,303.72 L232.92,303.37 L232.25,303.03 L231.57,302.69 L230.90,302.35 L230.23,302.01 L229.57,301.67 L228.91,301.32 L228.25,300.98 L227.59,300.65 L226.94,300.31 L226.29,299.97 L225.64,299.63 L224.99,299.29 L224.35,298.95 L223.71,298.61 L223.08,298.28 L222.44,297.94 L221.81,297.60 L221.18,297.27 L220.56,296.93 L219.94,296.60 L219.32,296.26 L218.70,295.92 L218.09,295.59 L217.48,295.25 L216.87,294.92 L216.27,294.59 L215.66,294.25 L215.06,293.92 L214.47,293.59 L213.88,293.25 L213.29,292.92 L212.70,292.59 L212.11,292.25 L211.53,291.92 L210.95,291.59 L210.38,291.26 L209.80,290.93 L209.23,290.60 L208.67,290.27 L208.10,289.93 L207.54,289.60 L206.98,289.27 L206.43,288.94 L205.88,288.61 L205.33,288.28 L204.78,287.95 L204.23,287.62 L203.69,287.29 L203.15,286.96 L202.62,286.63 L202.09,286.30 L201.56,285.98 L201.03,285.65 L200.51,285.32 L199.99,284.99 L199.47,284.66 L198.95,284.33 L198.44,284.00 L197.93,283.68 L197.42,283.35 L196.92,283.02 L196.42,282.69 L195.92,282.36 L195.43,282.03 L194.94,281.71 L194.45,281.38 L193.96,281.05 L193.48,280.72 L193.00,280.39 L192.52,280.07 L192.04,279.74 L191.57,279.41 L191.10,279.08 L190.64,278.76 L190.17,278.43 L189.71,278.10 L189.26,277.77 L188.80,277.44 L188.35,277.12 L187.90,276.79 L187.45,276.46 L187.01,276.13 L186.57,275.80 L186.13,275.47 L185.70,275.15 L185.27,274.82 L184.84,274.49 L184.41,274.16 L183.99,273.83 L183.57,273.50 L183.15,273.18 L182.74,272.85 L182.33,272.52 L181.92,272.19 L181.51,271.86 L181.11,271.53 L180.71,271.20 L180.32,270.87 L179.92,270.54 L179.53,270.21 L179.14,269.88 L178.76,269.55 L178.37,269.22 L177.99,268.89 L177.62,268.56 L177.24,268.23 L176.87,267.90 L176.51,267.56 L176.14,267.23 L175.78,266.90 L175.42,266.57 L175.06,266.24 L174.71,265.91 L174.36,265.57 L174.01,265.24 L173.67,264.91 L173.32,264.57 L172.98,264.24 L172.65,263.91 L172.31,263.57 L171.98,263.24 L171.66,262.90 L171.33,262.57 L171.01,262.23 L170.69,261.90 L170.38,261.56 L170.06,261.23 L169.75,260.89 L169.44,260.56 L169.14,260.22 L168.84,259.88 L168.54,259.55 L168.24,259.21 L167.95,258.87 L167.66,258.53 L167.37,258.19 L167.09,257.86 L166.81,257.52 L166.53,257.18 L166.25,256.84 L165.98,256.50 L165.71,256.16 L165.44,255.82 L165.18,255.48 L164.92,255.14 L164.66,254.79 L164.41,254.45 L164.15,254.11 L163.90,253.77 L163.66,253.43 L163.41,253.08 L163.17,252.74 L162.93,252.40 L162.70,252.05 L162.47,251.71 L162.24,251.36 L162.01,251.02 L161.79,250.67 L161.57,250.33 L161.35,249.98 L161.13,249.64 L160.92,249.29 L160.71,248.94 L160.50,248.60 L160.30,248.25 L160.10,247.90 L159.90,247.55 L159.71,247.21 L159.52,246.86 L159.33,246.51 L159.14,246.16 L158.96,245.81 L158.78,245.46 L158.60,245.11 L158.43,244.76 L158.25,244.41 L158.08,244.06 L157.92,243.70 L157.76,243.35 L157.60,243.00 L157.44,242.65 L157.28,242.30 L157.13,241.94 L156.98,241.59 L156.84,241.24 L156.69,240.88 L156.55,240.53 L156.42,240.17 L156.28,239.82 L156.15,239.46 L156.02,239.11 L155.90,238.75 L155.78,238.40 L155.66,238.04 L155.54,237.69 L155.42,237.33 L155.31,236.97 L155.21,236.62 L155.10,236.26 L155.00,235.90 L154.90,235.54 L154.80,235.19 L154.71,234.83 L154.62,234.47 L154.53,234.11 L154.44,233.75 L154.36,233.39 L154.28,233.04 L154.21,232.68 L154.13,232.32 L154.06,231.96 L153.99,231.60 L153.93,231.24 L153.87,230.88 L153.81,230.52 L153.75,230.16 L153.70,229.80 L153.65,229.44 L153.60,229.08 L153.55,228.72 L153.51,228.36 L153.47,228.00 L153.44,227.63 L153.40,227.27 L153.37,226.91 L153.35,226.55 L153.32,226.19 L153.30,225.83 L153.28,225.47 L153.27,225.11 L153.25,224.75 L153.24,224.38 L153.24,224.02 L153.23,223.66 L153.23,223.30Z" fill="#ffc0cb" stroke="#ffc0cb" stroke-width="1" stroke-linejoin="round"/>
<path d="M382.97,367.49 L382.97,79.11" stroke="#ffc0cb" stroke-width="1"/>
<path d="M459.55,378.43 L457.63,377.26 L455.71,376.10 L453.80,374.95 L451.89,373.80 L449.99,372.65 L448.08,371.51 L446.18,370.38 L444.29,369.24 L442.39,368.12 L440.50,367.00 L438.62,365.88 L436.73,364.77 L434.85,363.66 L432.97,362.56 L431.10,361.46 L429.23,360.37 L427.36,359.28 L425.50,358.20 L423.64,357.12 L421.78,356.05 L419.93,354.98 L418.08,353.92 L416.23,352.86 L414.39,351.81 L412.55,350.76 L410.71,349.71 L408.87,348.67 L407.04,347.64 L405.22,346.61 L403.39,345.58 L401.57,344.56 L399.76,343.55 L397.94,342.54 L396.13,341.53 L394.33,340.53 L392.52,339.53 L390.72,338.54 L388.93,337.55 L387.13,336.57 L385.34,335.59 L383.56,334.62 L381.78,333.65 L380.00,332.69 L378.22,331.73 L376.45,330.77 L374.68,329.82 L372.91,328.88 L371.15,327.94 L369.39,327.00 L367.64,326.07 L365.89,325.15 L364.14,324.22 L362.40,323.31 L360.66,322.39 L358.92,321.49 L357.19,320.58 L355.46,319.69 L353.73,318.79 L352.01,317.90 L350.29,317.02 L348.57,316.14 L346.86,315.26 L345.15,314.39 L343.45,313.53 L341.75,312.66 L340.05,311.81 L338.35,310.95 L336.66,310.11 L334.98,309.26 L333.29,308.43 L331.62,307.59 L329.94,306.76 L328.27,305.94 L326.60,305.12 L324.94,304.30 L323.27,303.49 L321.62,302.68 L319.96,301.88 L318.31,301.08 L316.67,300.29 L315.03,299.50 L313.39,298.72 L311.75,297.94 L310.12,297.16 L308.50,296.39 L306.87,295.62 L305.25,294.86 L303.64,294.10 L302.03,293.35 L300.42,292.60 L298.81,291.86 L297.21,291.12 L295.62,290.39 L294.02,289.66 L292.44,288.93 L290.85,288.21 L289.27,287.49 L287.69,286.78 L286.12,286.07 L284.55,285.37 L282.99,284.67 L281.43,283.97 L279.87,283.28 L278.31,282.59 L276.77,281.91 L275.22,281.23 L273.68,280.56 L272.14,279.89 L270.61,279.23 L269.08,278.57 L267.55,277.91 L266.03,277.26 L264.52,276.61 L263.00,275.97 L261.49,275.33 L259.99,274.70 L258.49,274.07 L256.99,273.44 L255.50,272.82 L254.01,272.20 L252.53,271.59 L251.05,270.98 L249.57,270.38 L248.10,269.78 L246.63,269.18 L245.17,268.59 L243.71,268.01 L242.25,267.42 L240.80,266.84 L239.36,266.27 L237.92,265.70 L236.48,265.14 L235.04,264.57 L233.62,264.02 L232.19,263.46 L230.77,262.91 L229.35,262.37 L227.94,261.83 L226.54,261.29 L225.13,260.76 L223.73,260.23 L222.34,259.71 L220.95,259.19 L219.56,258.67 L218.18,258.16 L216.81,257.65 L215.44,257.15 L214.07,256.65 L212.71,256.16 L211.35,255.67 L209.99,255.18 L208.64,254.70 L207.30,254.22 L205.96,253.74 L204.62,253.27 L203.29,252.81 L201.97,252.35 L200.65,251.89 L199.33,251.43 L198.02,250.98 L196.71,250.54 L195.41,250.09 L194.11,249.66 L192.82,249.22 L191.53,248.79 L190.24,248.37 L188.97,247.94 L187.69,247.53 L186.42,247.11 L185.16,246.70 L183.90,246.30 L182.64,245.89 L181.40,245.50 L180.15,245.10 L178.91,244.71 L177.68,244.32 L176.45,243.94 L175.22,243.56 L174.00,243.19 L172.79,242.82 L171.58,242.45 L170.38,242.09 L169.18,241.73 L167.98,241.37 L166.79,241.02 L165.61,240.67 L164.43,240.33 L163.26,239.99 L162.09,239.65 L160.93,239.32 L159.77,238.99 L158.62,238.67 L157.47,238.34 L156.33,238.03 L155.20,237.71 L154.07,237.40 L152.94,237.10 L151.82,236.79 L150.71,236.50 L149.60,236.20 L148.50,235.91 L147.40,235.62 L146.31,235.34 L145.22,235.06 L144.14,234.78 L143.07,234.51 L142.00,234.24 L140.94,233.97 L139.88,233.71 L138.83,233.45 L137.79,233.20 L136.75,232.95 L135.71,232.70 L134.69,232.45 L133.67,232.21 L132.65,231.98 L131.64,231.74 L130.64,231.51 L129.64,231.29 L128.65,231.06 L127.67,230.84 L126.69,230.63 L125.72,230.42 L124.75,230.21 L123.79,230.00 L122.84,229.80 L121.90,229.60 L120.96,229.41 L120.02,229.21 L119.10,229.03 L118.18,228.84 L117.27,228.66 L116.36,228.48 L115.46,228.31 L114.57,228.13 L113.68,227.97 L112.80,227.80 L111.93,227.64 L111.07,227.48 L110.21,227.33 L109.36,227.17 L108.52,227.03 L107.69,226.88 L106.86,226.74 L106.04,226.60 L105.23,226.46 L104.42,226.33 L103.62,226.20 L102.83,226.07 L102.05,225.95 L101.28,225.83 L100.51,225.71 L99.76,225.60 L99.01,225.49 L98.27,225.38 L97.53,225.28 L96.81,225.17 L96.09,225.07 L95.39,224.98 L94.69,224.89 L94.00,224.80 L93.32,224.71 L92.65,224.62 L91.98,224.54 L91.33,224.46 L90.69,224.39 L90.06,224.32 L89.43,224.25 L88.82,224.18 L88.22,224.11 L87.62,224.05 L87.04,223.99 L86.47,223.94 L85.91,223.88 L85.36,223.83 L84.82,223.78 L84.29,223.74 L83.78,223.69 L83.27,223.65 L82.78,223.61 L82.31,223.58 L81.84,223.54 L81.39,223.51 L80.95,223.48 L80.53,223.46 L80.12,223.43 L79.73,223.41 L79.35,223.39 L78.99,223.37 L78.65,223.36 L78.33,223.34 L78.02,223.33 L77.74,223.32 L77.48,223.32 L77.24,223.31 L77.03,223.30 L76.86,223.30 L76.72,223.30 L76.65,223.30 L76.72,223.30 L76.86,223.30 L77.03,223.30 L77.24,223.29 L77.48,223.28 L77.74,223.28 L78.02,223.27 L78.33,223.26 L78.65,223.24 L78.99,223.23 L79.35,223.21 L79.73,223.19 L80.12,223.17 L80.53,223.14 L80.95,223.12 L81.39,223.09 L81.84,223.06 L82.31,223.02 L82.78,222.99 L83.27,222.95 L83.78,222.91 L84.29,222.86 L84.82,222.82 L85.36,222.77 L85.91,222.72 L86.47,222.66 L87.04,222.61 L87.62,222.55 L88.22,222.49 L88.82,222.42 L89.43,222.35 L90.06,222.28 L90.69,222.21 L91.33,222.14 L91.98,222.06 L92.65,221.98 L93.32,221.89 L94.00,221.80 L94.69,221.71 L95.39,221.62 L96.09,221.53 L96.81,221.43 L97.53,221.32 L98.27,221.22 L99.01,221.11 L99.76,221.00 L100.51,220.89 L101.28,220.77 L102.05,220.65 L102.83,220.53 L103.62,220.40 L104.42,220.27 L105.23,220.14 L106.04,220.00 L106.86,219.86 L107.69,219.72 L108.52,219.57 L109.36,219.43 L110.21,219.27 L111.07,219.12 L111.93,218.96 L112.80,218.80 L113.68,218.63 L114.57,218.47 L115.46,218.29 L116.36,218.12 L117.27,217.94 L118.18,217.76 L119.10,217.57 L120.02,217.39 L120.96,217.19 L121.90,217.00 L122.84,216.80 L123.79,216.60 L124.75,216.39 L125.72,216.18 L126.69,215.97 L127.67,215.76 L128.65,215.54 L129.64,215.31 L130.64,215.09 L131.64,214.86 L132.65,214.62 L133.67,214.39 L134.69,214.15 L135.71,213.90 L136.75,213.65 L137.79,213.40 L138.83,213.15 L139.88,212.89 L140.94,212.63 L142.00,212.36 L143.07,212.09 L144.14,211.82 L145.22,211.54 L146.31,211.26 L147.40,210.98 L148.50,210.69 L149.60,210.40 L150.71,210.10 L151.82,209.81 L152.94,209.50 L154.07,209.20 L155.20,208.89 L156.33,208.57 L157.47,208.26 L158.62,207.93 L159.77,207.61 L160.93,207.28 L162.09,206.95 L163.26,206.61 L164.43,206.27 L165.61,205.93 L166.79,205.58 L167.98,205.23 L169.18,204.87 L170.38,204.51 L171.58,204.15 L172.79,203.78 L174.00,203.41 L175.22,203.04 L176.45,202.66 L177.68,202.28 L178.91,201.89 L180.15,201.50 L181.40,201.10 L182.64,200.71 L183.90,200.30 L185.16,199.90 L186.42,199.49 L187.69,199.07 L188.97,198.66 L190.24,198.23 L191.53,197.81 L192.82,197.38 L194.11,196.94 L195.41,196.51 L196.71,196.06 L198.02,195.62 L199.33,195.17 L200.65,194.71 L201.97,194.25 L203.29,193.79 L204.62,193.33 L205.96,192.86 L207.30,192.38 L208.64,191.90 L209.99,191.42 L211.35,190.93 L212.71,190.44 L214.07,189.95 L215.44,189.45 L216.81,188.95 L218.18,188.44 L219.56,187.93 L220.95,187.41 L222.34,186.89 L223.73,186.37 L225.13,185.84 L226.54,185.31 L227.94,184.77 L229.35,184.23 L230.77,183.69 L232.19,183.14 L233.62,182.58 L235.04,182.03 L236.48,181.46 L237.92,180.90 L239.36,180.33 L240.80,179.76 L242.25,179.18 L243.71,178.59 L245.17,178.01 L246.63,177.42 L248.10,176.82 L249.57,176.22 L251.05,175.62 L252.53,175.01 L254.01,174.40 L255.50,173.78 L256.99,173.16 L258.49,172.53 L259.99,171.90 L261.49,171.27 L263.00,170.63 L264.52,169.99 L266.03,169.34 L267.55,168.69 L269.08,168.03 L270.61,167.37 L272.14,166.71 L273.68,166.04 L275.22,165.37 L276.77,164.69 L278.31,164.01 L279.87,163.32 L281.43,162.63 L282.99,161.93 L284.55,161.23 L286.12,160.53 L287.69,159.82 L289.27,159.11 L290.85,158.39 L292.44,157.67 L294.02,156.94 L295.62,156.21 L297.21,155.48 L298.81,154.74 L300.42,154.00 L302.03,153.25 L303.64,152.50 L305.25,151.74 L306.87,150.98 L308.50,150.21 L310.12,149.44 L311.75,148.66 L313.39,147.88 L315.03,147.10 L316.67,146.31 L318.31,145.52 L319.96,144.72 L321.62,143.92 L323.27,143.11 L324.94,142.30 L326.60,141.48 L328.27,140.66 L329.94,139.84 L331.62,139.01 L333.29,138.17 L334.98,137.34 L336.66,136.49 L338.35,135.65 L340.05,134.79 L341.75,133.94 L343.45,133.07 L345.15,132.21 L346.86,131.34 L348.57,130.46 L350.29,129.58 L352.01,128.70 L353.73,127.81 L355.46,126.91 L357.19,126.02 L358.92,125.11 L360.66,124.21 L362.40,123.29 L364.14,122.38 L365.89,121.45 L367.64,120.53 L369.39,119.60 L371.15,118.66 L372.91,117.72 L374.68,116.78 L376.45,115.83 L378.22,114.87 L380.00,113.91 L381.78,112.95 L383.56,111.98 L385.34,111.01 L387.13,110.03 L388.93,109.05 L390.72,108.06 L392.52,107.07 L394.33,106.07 L396.13,105.07 L397.94,104.06 L399.76,103.05 L401.57,102.04 L403.39,101.02 L405.22,99.99 L407.04,98.96 L408.87,97.93 L410.71,96.89 L412.55,95.84 L414.39,94.79 L416.23,93.74 L418.08,92.68 L419.93,91.62 L421.78,90.55 L423.64,89.48 L425.50,88.40 L427.36,87.32 L429.23,86.23 L431.10,85.14 L432.97,84.04 L434.85,82.94 L436.73,81.83 L438.62,80.72 L440.50,79.60 L442.39,78.48 L444.29,77.36 L446.18,76.22 L448.08,75.09 L449.99,73.95 L451.89,72.80 L453.80,71.65 L455.71,70.50 L457.63,69.34 L459.55,68.17" stroke="#000" stroke-width="2.78" stroke-linecap="square" stroke-miterlimit="10"/>
<path d="M76.65,223.30 L382.97,112.30" stroke="#000" stroke-width="2.78" stroke-dasharray="10.28 4.44"/>
<path d="M76.65,223.30 L382.97,334.30" stroke="#000" stroke-width="2.78" stroke-dasharray="10.28 4.44"/>
<path d="M382.97,112.30 L382.97,223.30" stroke="#000" stroke-width="2.78" stroke-dasharray="10.28 4.44"/>
<path d="M382.97,334.30 L382.97,223.30" stroke="#000" stroke-width="2.78" stroke-dasharray="10.28 4.44"/>
<path d="M155.61,223.30 L155.61,223.18 L155.61,223.05 L155.62,222.93 L155.64,222.81 L155.65,222.68 L155.67,222.56 L155.70,222.43 L155.73,222.31 L155.76,222.19 L155.80,222.06 L155.84,221.94 L155.88,221.81 L155.93,221.69 L155.98,221.56 L156.04,221.44 L156.09,221.31 L156.16,221.19 L156.22,221.06 L156.30,220.94 L156.37,220.81 L156.45,220.69 L156.53,220.56 L156.62,220.44 L156.71,220.31 L156.80,220.18 L156.90,220.06 L157.00,219.93 L157.10,219.80 L157.21,219.68 L157.32,219.55 L157.44,219.42 L157.56,219.29 L157.69,219.16 L157.81,219.03 L157.94,218.91 L158.08,218.78 L158.22,218.65 L158.36,218.52 L158.51,218.39 L158.66,218.26 L158.82,218.12 L158.97,217.99 L159.14,217.86 L159.30,217.73 L159.47,217.60 L159.65,217.46 L159.82,217.33 L160.00,217.20 L160.19,217.06 L160.38,216.93 L160.57,216.79 L160.77,216.66 L160.97,216.52 L161.17,216.38 L161.38,216.25 L161.59,216.11 L161.81,215.97 L162.03,215.83 L162.25,215.69 L162.48,215.55 L162.71,215.41 L162.94,215.27 L163.18,215.13 L163.43,214.99 L163.67,214.84 L163.92,214.70 L164.18,214.56 L164.43,214.41 L164.70,214.27 L164.96,214.12 L165.23,213.98 L165.50,213.83 L165.78,213.68 L166.06,213.53 L166.35,213.38 L166.63,213.23 L166.93,213.08 L167.22,212.93 L167.52,212.78 L167.82,212.63 L168.13,212.47 L168.44,212.32 L168.76,212.17 L169.08,212.01 L169.40,211.85 L169.73,211.70 L170.06,211.54 L170.39,211.38 L170.73,211.22 L171.07,211.06 L171.42,210.90 L171.77,210.74 L172.12,210.57 L172.48,210.41 L172.84,210.24 L173.20,210.08 L173.57,209.91 L173.94,209.74 L174.32,209.58 L174.70,209.41 L175.08,209.24 L175.47,209.06 L175.86,208.89 L176.26,208.72 L176.65,208.54 L177.06,208.37 L177.46,208.19 L177.87,208.02 L178.29,207.84 L178.71,207.66 L179.13,207.48 L179.55,207.30 L179.98,207.11 L180.42,206.93 L180.86,206.75 L181.30,206.56 L181.74,206.37 L182.19,206.18 L182.64,206.00 L183.10,205.81 L183.56,205.61 L184.02,205.42 L184.49,205.23 L184.96,205.03 L185.44,204.84 L185.92,204.64 L186.40,204.44 L186.89,204.24 L187.38,204.04 L187.87,203.84 L188.37,203.63 L188.87,203.43 L189.38,203.22 L189.89,203.02 L190.40,202.81 L190.92,202.60 L191.44,202.39 L191.96,202.17 L192.49,201.96 L193.03,201.74 L193.56,201.53 L194.10,201.31 L194.65,201.09 L195.19,200.87 L195.75,200.65 L196.30,200.42 L196.86,200.20 L197.42,199.97 L197.99,199.74 L198.56,199.51 L199.14,199.28 L199.72,199.05 L200.30,198.82 L200.88,198.58 L201.47,198.35 L202.07,198.11 L202.67,197.87 L203.27,197.63 L203.87,197.38 L204.48,197.14 L205.09,196.89 L205.71,196.64 L206.33,196.40 L206.96,196.14 L207.58,195.89 L208.22,195.64 L208.85,195.38 L209.49,195.12 L210.13,194.86 L210.78,194.60 L211.43,194.34 L212.09,194.08 L212.75,193.81 L213.41,193.54 L214.07,193.27 L214.74,193.00 L215.42,192.73 L216.10,192.46 L216.78,192.18 L217.46,191.90 L218.15,191.62 L218.85,191.34 L219.54,191.06 L220.24,190.77 L220.95,190.48 L221.66,190.19 L222.37,189.90 L223.08,189.61 L223.80,189.32 L224.53,189.02 L225.25,188.72 L225.99,188.42 L226.72,188.12 L227.46,187.81 L228.20,187.51 L228.95,187.20 L229.70,186.89 L230.45,186.58 L231.21,186.26 L231.97,185.95 L232.74,185.63 L233.51,185.31 L234.28,184.99 L235.06,184.66 L235.84,184.33 L236.62,184.01 L237.41,183.68 L238.20,183.34 L239.00,183.01 L239.80,182.67 L240.60,182.33 L241.41,181.99 L242.22,181.65 L243.04,181.30 L243.86,180.96 L244.68,180.61 L245.51,180.26 L246.34,179.90 L247.17,179.54 L248.01,179.19 L248.85,178.83 L249.70,178.46 L250.55,178.10 L251.40,177.73 L252.26,177.36 L253.12,176.99 L253.98,176.61 L254.85,176.24 L255.73,175.86 L256.60,175.48 L257.48,175.09 L258.37,174.71 L259.25,174.32 L260.15,173.93 L261.04,173.54 L261.94,173.14 L262.84,172.74 L263.75,172.34 L264.66,171.94 L265.58,171.54 L266.49,171.13 L267.42,170.72 L268.34,170.31 L269.27,169.89 L270.20,169.47 L271.14,169.05 L272.08,168.63 L273.03,168.21 L273.98,167.78 L274.93,167.35 L275.89,166.92 L276.85,166.48 L277.81,166.04 L278.78,165.60 L279.75,165.16 L280.73,164.71 L281.71,164.27 L282.69,163.82 L283.68,163.36 L284.67,162.91 L285.66,162.45 L286.66,161.99 L287.66,161.52 L288.67,161.05 L289.68,160.59 L290.69,160.11 L291.71,159.64 L292.73,159.16 L293.76,158.68 L294.79,158.20 L295.82,157.71 L296.86,157.22 L297.90,156.73 L298.94,156.24 L299.99,155.74 L301.04,155.24 L302.10,154.74 L303.16,154.23 L304.22,153.72 L305.29,153.21 L306.36,152.70 L307.43,152.18 L308.51,151.66 L309.59,151.14 L310.68,150.61 L311.77,150.08 L312.86,149.55 L313.96,149.02 L315.06,148.48 L316.17,147.94 L317.28,147.40 L318.39,146.85 L319.51,146.30 L320.63,145.75 L321.75,145.19 L322.88,144.63 L324.01,144.07 L325.15,143.51 L326.29,142.94 L327.43,142.37 L328.58,141.79 L329.73,141.22 L330.89,140.64 L332.05,140.05 L333.21,139.47 L334.37,138.88 L335.54,138.28 L336.72,137.69 L337.90,137.09 L339.08,136.49 L340.26,135.88 L341.45,135.27 L342.65,134.66 L343.84,134.05 L345.04,133.43 L346.25,132.81 L347.46,132.18 L348.67,131.55 L349.89,130.92 L351.11,130.29 L352.33,129.65 L353.56,129.01 L354.79,128.36 L356.02,127.72 L357.26,127.07 L358.51,126.41 L359.75,125.75 L361.00,125.09 L362.26,124.43 L363.52,123.76 L364.78,123.09 L366.04,122.41 L367.31,121.73 L368.59,121.05 L369.86,120.37 L371.15,119.68 L372.43,118.99 L373.72,118.29 L375.01,117.59 L376.31,116.89 L377.61,116.18 L378.91,115.47 L380.22,114.76 L381.53,114.04 L382.85,113.32 L384.17,112.60 L385.49,111.87 L386.82,111.14 L388.15,110.41 L389.48,109.67 L390.82,108.92 L392.16,108.18 L393.51,107.43 L394.86,106.68 L396.21,105.92 L397.57,105.16 L398.93,104.40 L400.29,103.63 L401.66,102.86 L403.04,102.08 L404.41,101.30 L405.79,100.52 L407.18,99.74 L408.57,98.95 L409.96,98.15 L411.35,97.36 L412.75,96.55 L414.16,95.75 L415.56,94.94 L416.97,94.13 L418.39,93.31 L419.81,92.49 L421.23,91.67 L422.66,90.84 L424.09,90.01 L425.52,89.17 L426.96,88.33 L428.40,87.49 L429.84,86.64 L431.29,85.79 L432.75,84.93 L434.20,84.07 L435.66,83.21 L437.13,82.34 L438.59,81.47 L440.07,80.60 L441.54,79.72 L443.02,78.84 L444.51,77.95 L445.99,77.06 L447.48,76.16 L448.98,75.26 L450.48,74.36 L451.98,73.45 L453.49,72.54 L455.00,71.63 L456.51,70.71 L458.03,69.78 L459.55,68.85" stroke="#0000ff" stroke-width="2.78" stroke-linecap="square" stroke-miterlimit="10"/>
<path d="M162.56,223.88 L162.56,214.57 L162.61,214.53 L162.68,214.46 L162.78,214.38 L162.90,214.27 L163.03,214.16 L163.18,214.03 L163.34,213.89 L163.51,213.74 L163.69,213.59 L163.88,213.42 L164.08,213.25 L164.29,213.06 L164.52,212.88 L164.75,212.68 L164.98,212.48 L165.23,212.27 L165.48,212.06 L165.74,211.85 L166.01,211.62 L166.29,211.40 L166.57,211.16 L166.86,210.93 L167.16,210.69 L167.46,210.44 L167.77,210.20 L168.08,209.94 L168.41,209.69 L168.73,209.43 L169.07,209.17 L169.41,208.91 L169.75,208.64 L170.10,208.37 L170.46,208.10 L170.82,207.82 L171.19,207.54 L171.56,207.26 L171.94,206.98 L172.32,206.70 L172.71,206.41 L173.10,206.12 L173.50,205.84 L173.90,205.54 L174.31,205.25 L174.72,204.96 L175.13,204.66 L175.56,204.36 L175.98,204.06 L176.41,203.76 L176.85,203.46 L177.29,203.16 L177.73,202.85 L178.18,202.55 L178.63,202.24 L179.09,201.94 L179.55,201.63 L180.01,201.32 L180.48,201.01 L180.96,200.70 L181.44,200.39 L181.92,200.08 L182.40,199.76 L182.89,199.45 L183.39,199.14 L183.88,198.82 L184.39,198.51 L184.89,198.19 L185.40,197.87 L185.91,197.56 L186.43,197.24 L186.95,196.92 L187.48,196.60 L188.00,196.28 L188.54,195.96 L189.07,195.64 L189.61,195.32 L190.15,195.00 L190.70,194.68 L191.25,194.36 L191.80,194.04 L192.36,193.72 L192.92,193.40 L193.48,193.08 L194.05,192.75 L194.62,192.43 L195.20,192.11 L195.77,191.79 L196.35,191.46 L196.94,191.14 L197.53,190.81 L198.12,190.49 L198.71,190.17 L199.31,189.84 L199.91,189.52 L200.51,189.19 L201.12,188.87 L201.73,188.54 L202.35,188.22 L202.96,187.89 L203.58,187.57 L204.20,187.24 L204.83,186.91 L205.46,186.59 L206.09,186.26 L206.73,185.94 L207.37,185.61 L208.01,185.28 L208.65,184.96 L209.30,184.63 L209.95,184.30 L210.60,183.97 L211.26,183.65 L211.92,183.32 L212.58,182.99 L213.25,182.66 L213.92,182.33 L214.59,182.01 L215.26,181.68 L215.94,181.35 L216.62,181.02 L217.30,180.69 L217.99,180.36 L218.68,180.03 L219.37,179.70 L220.06,179.37 L220.76,179.04 L221.46,178.71 L222.16,178.38 L222.87,178.05 L223.57,177.72 L224.29,177.39 L225.00,177.06 L225.72,176.72 L226.43,176.39 L227.16,176.06 L227.88,175.73 L228.61,175.40 L229.34,175.06 L230.07,174.73 L230.80,174.40 L231.54,174.06 L232.28,173.73 L233.03,173.40 L233.77,173.06 L234.52,172.73 L235.27,172.39 L236.02,172.06 L236.78,171.72 L237.54,171.39 L238.30,171.05 L239.06,170.72 L239.83,170.38 L240.60,170.04 L241.37,169.71 L242.14,169.37 L242.92,169.03 L243.70,168.69 L244.48,168.35 L245.26,168.02 L246.05,167.68 L246.84,167.34 L247.63,167.00 L248.42,166.66 L249.22,166.32 L250.02,165.98 L250.82,165.64 L251.62,165.30 L252.43,164.95 L253.24,164.61 L254.05,164.27 L254.86,163.93 L255.68,163.59 L256.50,163.24 L257.32,162.90 L258.14,162.55 L258.96,162.21 L259.79,161.87 L260.62,161.52 L261.45,161.17 L262.29,160.83 L263.12,160.48 L263.96,160.14 L264.81,159.79 L265.65,159.44 L266.50,159.09 L267.34,158.75 L268.19,158.40 L269.05,158.05 L269.90,157.70 L270.76,157.35 L271.62,157.00 L272.48,156.65 L273.35,156.30 L274.21,155.95 L275.08,155.59 L275.95,155.24 L276.83,154.89 L277.70,154.54 L278.58,154.18 L279.46,153.83 L280.34,153.47 L281.23,153.12 L282.11,152.76 L283.00,152.41 L283.89,152.05 L284.79,151.70 L285.68,151.34 L286.58,150.98 L287.48,150.62 L288.38,150.26 L289.28,149.91 L290.19,149.55 L291.10,149.19 L292.01,148.83 L292.92,148.47 L293.84,148.10 L294.75,147.74 L295.67,147.38 L296.59,147.02 L297.52,146.65 L298.44,146.29 L299.37,145.93 L300.30,145.56 L301.23,145.20 L302.17,144.83 L303.10,144.47 L304.04,144.10 L304.98,143.73 L305.92,143.37 L306.87,143.00 L307.81,142.63 L308.76,142.26 L309.71,141.89 L310.66,141.52 L311.62,141.15 L312.57,140.78 L313.53,140.41 L314.49,140.04 L315.46,139.66 L316.42,139.29 L317.39,138.92 L318.36,138.54 L319.33,138.17 L320.30,137.79 L321.27,137.42 L322.25,137.04 L323.23,136.67 L324.21,136.29 L325.19,135.91 L326.18,135.54 L327.16,135.16 L328.15,134.78 L329.14,134.40 L330.14,134.02 L331.13,133.64 L332.13,133.26 L333.12,132.88 L334.13,132.49 L335.13,132.11 L336.13,131.73 L337.14,131.34 L338.15,130.96 L339.16,130.58 L340.17,130.19 L341.18,129.81 L342.20,129.42 L343.22,129.03 L344.24,128.65 L345.26,128.26 L346.28,127.87 L347.31,127.48 L348.33,127.09 L349.36,126.70 L350.39,126.31 L351.43,125.92 L352.46,125.53 L353.50,125.14 L354.54,124.74 L355.58,124.35 L356.62,123.96 L357.66,123.56 L358.71,123.17 L359.76,122.77 L360.81,122.38 L361.86,121.98 L362.91,121.59 L363.97,121.19 L365.03,120.79 L366.08,120.39 L367.15,119.99 L368.21,119.59 L369.27,119.19 L370.34,118.79 L371.41,118.39 L372.48,117.99 L373.55,117.59 L374.62,117.19 L375.70,116.78 L376.78,116.38 L377.86,115.98" stroke="#0000ff" stroke-width="2.78" stroke-dasharray="10.28 4.44"/>
<path d="M377.86,115.98 L377.86,223.30" stroke="#0000ff" stroke-width="2.78" stroke-dasharray="10.28 4.44" stroke-dashoffset="8.72"/>
<path d="M162.56,222.72 L162.56,232.03 L162.61,232.07 L162.68,232.14 L162.78,232.22 L162.90,232.33 L163.03,232.44 L163.18,232.57 L163.34,232.71 L163.51,232.86 L163.69,233.01 L163.88,233.18 L164.08,233.35 L164.29,233.54 L164.52,233.72 L164.75,233.92 L164.98,234.12 L165.23,234.33 L165.48,234.54 L165.74,234.75 L166.01,234.98 L166.29,235.20 L166.57,235.44 L166.86,235.67 L167.16,235.91 L167.46,236.16 L167.77,236.40 L168.08,236.66 L168.41,236.91 L168.73,237.17 L169.07,237.43 L169.41,237.69 L169.75,237.96 L170.10,238.23 L170.46,238.50 L170.82,238.78 L171.19,239.06 L171.56,239.34 L171.94,239.62 L172.32,239.90 L172.71,240.19 L173.10,240.48 L173.50,240.76 L173.90,241.06 L174.31,241.35 L174.72,241.64 L175.13,241.94 L175.56,242.24 L175.98,242.54 L176.41,242.84 L176.85,243.14 L177.29,243.44 L177.73,243.75 L178.18,244.05 L178.63,244.36 L179.09,244.66 L179.55,244.97 L180.01,245.28 L180.48,245.59 L180.96,245.90 L181.44,246.21 L181.92,246.52 L182.40,246.84 L182.89,247.15 L183.39,247.46 L183.88,247.78 L184.39,248.09 L184.89,248.41 L185.40,248.73 L185.91,249.04 L186.43,249.36 L186.95,249.68 L187.48,250.00 L188.00,250.32 L188.54,250.64 L189.07,250.96 L189.61,251.28 L190.15,251.60 L190.70,251.92 L191.25,252.24 L191.80,252.56 L192.36,252.88 L192.92,253.20 L193.48,253.52 L194.05,253.85 L194.62,254.17 L195.20,254.49 L195.77,254.81 L196.35,255.14 L196.94,255.46 L197.53,255.79 L198.12,256.11 L198.71,256.43 L199.31,256.76 L199.91,257.08 L200.51,257.41 L201.12,257.73 L201.73,258.06 L202.35,258.38 L202.96,258.71 L203.58,259.03 L204.20,259.36 L204.83,259.69 L205.46,260.01 L206.09,260.34 L206.73,260.66 L207.37,260.99 L208.01,261.32 L208.65,261.64 L209.30,261.97 L209.95,262.30 L210.60,262.63 L211.26,262.95 L211.92,263.28 L212.58,263.61 L213.25,263.94 L213.92,264.27 L214.59,264.59 L215.26,264.92 L215.94,265.25 L216.62,265.58 L217.30,265.91 L217.99,266.24 L218.68,266.57 L219.37,266.90 L220.06,267.23 L220.76,267.56 L221.46,267.89 L222.16,268.22 L222.87,268.55 L223.57,268.88 L224.29,269.21 L225.00,269.54 L225.72,269.88 L226.43,270.21 L227.16,270.54 L227.88,270.87 L228.61,271.20 L229.34,271.54 L230.07,271.87 L230.80,272.20 L231.54,272.54 L232.28,272.87 L233.03,273.20 L233.77,273.54 L234.52,273.87 L235.27,274.21 L236.02,274.54 L236.78,274.88 L237.54,275.21 L238.30,275.55 L239.06,275.88 L239.83,276.22 L240.60,276.56 L241.37,276.89 L242.14,277.23 L242.92,277.57 L243.70,277.91 L244.48,278.25 L245.26,278.58 L246.05,278.92 L246.84,279.26 L247.63,279.60 L248.42,279.94 L249.22,280.28 L250.02,280.62 L250.82,280.96 L251.62,281.30 L252.43,281.65 L253.24,281.99 L254.05,282.33 L254.86,282.67 L255.68,283.01 L256.50,283.36 L257.32,283.70 L258.14,284.05 L258.96,284.39 L259.79,284.73 L260.62,285.08 L261.45,285.43 L262.29,285.77 L263.12,286.12 L263.96,286.46 L264.81,286.81 L265.65,287.16 L266.50,287.51 L267.34,287.85 L268.19,288.20 L269.05,288.55 L269.90,288.90 L270.76,289.25 L271.62,289.60 L272.48,289.95 L273.35,290.30 L274.21,290.65 L275.08,291.01 L275.95,291.36 L276.83,291.71 L277.70,292.06 L278.58,292.42 L279.46,292.77 L280.34,293.13 L281.23,293.48 L282.11,293.84 L283.00,294.19 L283.89,294.55 L284.79,294.90 L285.68,295.26 L286.58,295.62 L287.48,295.98 L288.38,296.34 L289.28,296.69 L290.19,297.05 L291.10,297.41 L292.01,297.77 L292.92,298.13 L293.84,298.50 L294.75,298.86 L295.67,299.22 L296.59,299.58 L297.52,299.95 L298.44,300.31 L299.37,300.67 L300.30,301.04 L301.23,301.40 L302.17,301.77 L303.10,302.13 L304.04,302.50 L304.98,302.87 L305.92,303.23 L306.87,303.60 L307.81,303.97 L308.76,304.34 L309.71,304.71 L310.66,305.08 L311.62,305.45 L312.57,305.82 L313.53,306.19 L314.49,306.56 L315.46,306.94 L316.42,307.31 L317.39,307.68 L318.36,308.06 L319.33,308.43 L320.30,308.81 L321.27,309.18 L322.25,309.56 L323.23,309.93 L324.21,310.31 L325.19,310.69 L326.18,311.06 L327.16,311.44 L328.15,311.82 L329.14,312.20 L330.14,312.58 L331.13,312.96 L332.13,313.34 L333.12,313.72 L334.13,314.11 L335.13,314.49 L336.13,314.87 L337.14,315.26 L338.15,315.64 L339.16,316.02 L340.17,316.41 L341.18,316.79 L342.20,317.18 L343.22,317.57 L344.24,317.95 L345.26,318.34 L346.28,318.73 L347.31,319.12 L348.33,319.51 L349.36,319.90 L350.39,320.29 L351.43,320.68 L352.46,321.07 L353.50,321.46 L354.54,321.86 L355.58,322.25 L356.62,322.64 L357.66,323.04 L358.71,323.43 L359.76,323.83 L360.81,324.22 L361.86,324.62 L362.91,325.01 L363.97,325.41 L365.03,325.81 L366.08,326.21 L367.15,326.61 L368.21,327.01 L369.27,327.41 L370.34,327.81 L371.41,328.21 L372.48,328.61 L373.55,329.01 L374.62,329.41 L375.70,329.82 L376.78,330.22 L377.86,330.62" stroke="#0000ff" stroke-width="2.78" stroke-dasharray="10.28 4.44"/>
<path d="M377.86,330.62 L377.86,223.30" stroke="#0000ff" stroke-width="2.78" stroke-dasharray="10.28 4.44" stroke-dashoffset="8.72"/>
<path d="M459.55,417.55 L458.02,416.51 L456.49,415.47 L454.96,414.44 L453.44,413.41 L451.92,412.39 L450.41,411.37 L448.90,410.35 L447.39,409.34 L445.89,408.33 L444.39,407.33 L442.89,406.33 L441.40,405.33 L439.91,404.34 L438.43,403.35 L436.95,402.37 L435.48,401.39 L434.00,400.41 L432.54,399.44 L431.07,398.47 L429.61,397.51 L428.15,396.55 L426.70,395.59 L425.25,394.64 L423.81,393.69 L422.37,392.75 L420.93,391.81 L419.50,390.87 L418.07,389.94 L416.64,389.01 L415.22,388.09 L413.80,387.17 L412.39,386.25 L410.98,385.34 L409.57,384.43 L408.17,383.52 L406.77,382.62 L405.37,381.73 L403.98,380.83 L402.59,379.94 L401.21,379.06 L399.83,378.17 L398.46,377.29 L397.08,376.42 L395.72,375.55 L394.35,374.68 L392.99,373.82 L391.63,372.96 L390.28,372.10 L388.93,371.25 L387.59,370.40 L386.25,369.55 L384.91,368.71 L383.58,367.87 L382.25,367.04 L380.92,366.21 L379.60,365.38 L378.28,364.56 L376.97,363.74 L375.66,362.92 L374.35,362.11 L373.05,361.30 L371.75,360.49 L370.45,359.69 L369.16,358.89 L367.88,358.10 L366.59,357.31 L365.31,356.52 L364.04,355.73 L362.77,354.95 L361.50,354.17 L360.23,353.40 L358.97,352.63 L357.72,351.86 L356.46,351.10 L355.22,350.34 L353.97,349.58 L352.73,348.82 L351.49,348.07 L350.26,347.33 L349.03,346.58 L347.80,345.84 L346.58,345.11 L345.36,344.37 L344.15,343.64 L342.94,342.91 L341.73,342.19 L340.53,341.47 L339.33,340.75 L338.14,340.04 L336.95,339.33 L335.76,338.62 L334.58,337.92 L333.40,337.21 L332.22,336.52 L331.05,335.82 L329.88,335.13 L328.72,334.44 L327.56,333.76 L326.40,333.08 L325.25,332.40 L324.10,331.72 L322.95,331.05 L321.81,330.38 L320.68,329.71 L319.54,329.05 L318.41,328.39 L317.29,327.73 L316.17,327.08 L315.05,326.43 L313.93,325.78 L312.82,325.13 L311.72,324.49 L310.61,323.85 L309.52,323.22 L308.42,322.58 L307.33,321.95 L306.24,321.33 L305.16,320.70 L304.08,320.08 L303.00,319.46 L301.93,318.85 L300.86,318.24 L299.80,317.63 L298.74,317.02 L297.68,316.42 L296.63,315.81 L295.58,315.22 L294.54,314.62 L293.50,314.03 L292.46,313.44 L291.43,312.85 L290.40,312.27 L289.37,311.69 L288.35,311.11 L287.33,310.54 L286.32,309.96 L285.31,309.39 L284.30,308.83 L283.30,308.26 L282.30,307.70 L281.31,307.14 L280.32,306.58 L279.33,306.03 L278.35,305.48 L277.37,304.93 L276.39,304.39 L275.42,303.84 L274.45,303.30 L273.49,302.77 L272.53,302.23 L271.57,301.70 L270.62,301.17 L269.67,300.64 L268.72,300.12 L267.78,299.59 L266.85,299.08 L265.91,298.56 L264.98,298.04 L264.06,297.53 L263.14,297.02 L262.22,296.52 L261.31,296.01 L260.40,295.51 L259.49,295.01 L258.59,294.51 L257.69,294.02 L256.79,293.53 L255.90,293.04 L255.02,292.55 L254.13,292.07 L253.25,291.58 L252.38,291.10 L251.51,290.63 L250.64,290.15 L249.77,289.68 L248.91,289.21 L248.06,288.74 L247.21,288.27 L246.36,287.81 L245.51,287.35 L244.67,286.89 L243.83,286.43 L243.00,285.98 L242.17,285.53 L241.35,285.08 L240.52,284.63 L239.71,284.18 L238.89,283.74 L238.08,283.30 L237.28,282.86 L236.47,282.42 L235.68,281.99 L234.88,281.56 L234.09,281.13 L233.30,280.70 L232.52,280.27 L231.74,279.85 L230.97,279.43 L230.19,279.01 L229.43,278.59 L228.66,278.18 L227.90,277.76 L227.15,277.35 L226.39,276.94 L225.65,276.54 L224.90,276.13 L224.16,275.73 L223.42,275.33 L222.69,274.93 L221.96,274.53 L221.24,274.14 L220.51,273.74 L219.80,273.35 L219.08,272.96 L218.37,272.58 L217.67,272.19 L216.96,271.81 L216.27,271.43 L215.57,271.05 L214.88,270.67 L214.19,270.29 L213.51,269.92 L212.83,269.55 L212.16,269.18 L211.48,268.81 L210.82,268.44 L210.15,268.08 L209.49,267.72 L208.84,267.36 L208.18,267.00 L207.54,266.64 L206.89,266.28 L206.25,265.93 L205.61,265.58 L204.98,265.23 L204.35,264.88 L203.73,264.53 L203.10,264.18 L202.49,263.84 L201.87,263.50 L201.26,263.16 L200.66,262.82 L200.06,262.48 L199.46,262.15 L198.86,261.81 L198.27,261.48 L197.68,261.15 L197.10,260.82 L196.52,260.49 L195.95,260.17 L195.38,259.84 L194.81,259.52 L194.24,259.20 L193.68,258.88 L193.13,258.56 L192.58,258.25 L192.03,257.93 L191.48,257.62 L190.94,257.31 L190.41,256.99 L189.87,256.69 L189.34,256.38 L188.82,256.07 L188.30,255.77 L187.78,255.46 L187.27,255.16 L186.76,254.86 L186.25,254.56 L185.75,254.26 L185.25,253.97 L184.75,253.67 L184.26,253.38 L183.78,253.09 L183.29,252.79 L182.82,252.50 L182.34,252.22 L181.87,251.93 L181.40,251.64 L180.94,251.36 L180.48,251.07 L180.02,250.79 L179.57,250.51 L179.12,250.23 L178.68,249.95 L178.24,249.67 L177.80,249.40 L177.37,249.12 L176.94,248.85 L176.51,248.58 L176.09,248.31 L175.67,248.04 L175.26,247.77 L174.85,247.50 L174.44,247.23 L174.04,246.96 L173.64,246.70 L173.25,246.44 L172.86,246.17 L172.47,245.91 L172.09,245.65 L171.71,245.39 L171.33,245.13 L170.96,244.88 L170.60,244.62 L170.23,244.36 L169.87,244.11 L169.52,243.86 L169.16,243.60 L168.82,243.35 L168.47,243.10 L168.13,242.85 L167.79,242.60 L167.46,242.36 L167.13,242.11 L166.81,241.86 L166.49,241.62 L166.17,241.37 L165.85,241.13 L165.54,240.89 L165.24,240.64 L164.94,240.40 L164.64,240.16 L164.34,239.92 L164.05,239.69 L163.77,239.45 L163.48,239.21 L163.20,238.97 L162.93,238.74 L162.66,238.50 L162.39,238.27 L162.13,238.04 L161.87,237.80 L161.61,237.57 L161.36,237.34 L161.11,237.11 L160.87,236.88 L160.63,236.65 L160.39,236.42 L160.16,236.20 L159.93,235.97 L159.70,235.74 L159.48,235.52 L159.26,235.29 L159.05,235.07 L158.84,234.84 L158.63,234.62 L158.43,234.40 L158.23,234.17 L158.04,233.95 L157.85,233.73 L157.66,233.51 L157.48,233.29 L157.30,233.07 L157.13,232.85 L156.96,232.63 L156.79,232.41 L156.62,232.19 L156.46,231.97 L156.31,231.76 L156.16,231.54 L156.01,231.32 L155.86,231.11 L155.72,230.89 L155.59,230.68 L155.45,230.46 L155.33,230.25 L155.20,230.03 L155.08,229.82 L154.96,229.61 L154.85,229.39 L154.74,229.18 L154.63,228.97 L154.53,228.76 L154.43,228.54 L154.34,228.33 L154.25,228.12 L154.16,227.91 L154.08,227.70 L154.00,227.49 L153.92,227.28 L153.85,227.07 L153.79,226.86 L153.72,226.65 L153.66,226.44 L153.61,226.23 L153.56,226.02 L153.51,225.81 L153.46,225.60 L153.42,225.39 L153.39,225.18 L153.35,224.97 L153.32,224.76 L153.30,224.55 L153.28,224.34 L153.26,224.13 L153.25,223.93 L153.24,223.72 L153.23,223.51 L153.23,223.30 L153.23,223.09 L153.24,222.88 L153.25,222.67 L153.26,222.47 L153.28,222.26 L153.30,222.05 L153.32,221.84 L153.35,221.63 L153.39,221.42 L153.42,221.21 L153.46,221.00 L153.51,220.79 L153.56,220.58 L153.61,220.37 L153.66,220.16 L153.72,219.95 L153.79,219.74 L153.85,219.53 L153.92,219.32 L154.00,219.11 L154.08,218.90 L154.16,218.69 L154.25,218.48 L154.34,218.27 L154.43,218.06 L154.53,217.84 L154.63,217.63 L154.74,217.42 L154.85,217.21 L154.96,216.99 L155.08,216.78 L155.20,216.57 L155.33,216.35 L155.45,216.14 L155.59,215.92 L155.72,215.71 L155.86,215.49 L156.01,215.28 L156.16,215.06 L156.31,214.84 L156.46,214.63 L156.62,214.41 L156.79,214.19 L156.96,213.97 L157.13,213.75 L157.30,213.53 L157.48,213.31 L157.66,213.09 L157.85,212.87 L158.04,212.65 L158.23,212.43 L158.43,212.20 L158.63,211.98 L158.84,211.76 L159.05,211.53 L159.26,211.31 L159.48,211.08 L159.70,210.86 L159.93,210.63 L160.16,210.40 L160.39,210.18 L160.63,209.95 L160.87,209.72 L161.11,209.49 L161.36,209.26 L161.61,209.03 L161.87,208.80 L162.13,208.56 L162.39,208.33 L162.66,208.10 L162.93,207.86 L163.20,207.63 L163.48,207.39 L163.77,207.15 L164.05,206.91 L164.34,206.68 L164.64,206.44 L164.94,206.20 L165.24,205.96 L165.54,205.71 L165.85,205.47 L166.17,205.23 L166.49,204.98 L166.81,204.74 L167.13,204.49 L167.46,204.24 L167.79,204.00 L168.13,203.75 L168.47,203.50 L168.82,203.25 L169.16,203.00 L169.52,202.74 L169.87,202.49 L170.23,202.24 L170.60,201.98 L170.96,201.72 L171.33,201.47 L171.71,201.21 L172.09,200.95 L172.47,200.69 L172.86,200.43 L173.25,200.16 L173.64,199.90 L174.04,199.64 L174.44,199.37 L174.85,199.10 L175.26,198.83 L175.67,198.56 L176.09,198.29 L176.51,198.02 L176.94,197.75 L177.37,197.48 L177.80,197.20 L178.24,196.93 L178.68,196.65 L179.12,196.37 L179.57,196.09 L180.02,195.81 L180.48,195.53 L180.94,195.24 L181.40,194.96 L181.87,194.67 L182.34,194.38 L182.82,194.10 L183.29,193.81 L183.78,193.51 L184.26,193.22 L184.75,192.93 L185.25,192.63 L185.75,192.34 L186.25,192.04 L186.76,191.74 L187.27,191.44 L187.78,191.14 L188.30,190.83 L188.82,190.53 L189.34,190.22 L189.87,189.91 L190.41,189.61 L190.94,189.29 L191.48,188.98 L192.03,188.67 L192.58,188.35 L193.13,188.04 L193.68,187.72 L194.24,187.40 L194.81,187.08 L195.38,186.76 L195.95,186.43 L196.52,186.11 L197.10,185.78 L197.68,185.45 L198.27,185.12 L198.86,184.79 L199.46,184.45 L200.06,184.12 L200.66,183.78 L201.26,183.44 L201.87,183.10 L202.49,182.76 L203.10,182.42 L203.73,182.07 L204.35,181.72 L204.98,181.37 L205.61,181.02 L206.25,180.67 L206.89,180.32 L207.54,179.96 L208.18,179.60 L208.84,179.24 L209.49,178.88 L210.15,178.52 L210.82,178.16 L211.48,177.79 L212.16,177.42 L212.83,177.05 L213.51,176.68 L214.19,176.31 L214.88,175.93 L215.57,175.55 L216.27,175.17 L216.96,174.79 L217.67,174.41 L218.37,174.02 L219.08,173.64 L219.80,173.25 L220.51,172.86 L221.24,172.46 L221.96,172.07 L222.69,171.67 L223.42,171.27 L224.16,170.87 L224.90,170.47 L225.65,170.06 L226.39,169.66 L227.15,169.25 L227.90,168.84 L228.66,168.42 L229.43,168.01 L230.19,167.59 L230.97,167.17 L231.74,166.75 L232.52,166.33 L233.30,165.90 L234.09,165.47 L234.88,165.04 L235.68,164.61 L236.47,164.18 L237.28,163.74 L238.08,163.30 L238.89,162.86 L239.71,162.42 L240.52,161.97 L241.35,161.52 L242.17,161.07 L243.00,160.62 L243.83,160.17 L244.67,159.71 L245.51,159.25 L246.36,158.79 L247.21,158.33 L248.06,157.86 L248.91,157.39 L249.77,156.92 L250.64,156.45 L251.51,155.97 L252.38,155.50 L253.25,155.02 L254.13,154.53 L255.02,154.05 L255.90,153.56 L256.79,153.07 L257.69,152.58 L258.59,152.09 L259.49,151.59 L260.40,151.09 L261.31,150.59 L262.22,150.08 L263.14,149.58 L264.06,149.07 L264.98,148.56 L265.91,148.04 L266.85,147.52 L267.78,147.01 L268.72,146.48 L269.67,145.96 L270.62,145.43 L271.57,144.90 L272.53,144.37 L273.49,143.83 L274.45,143.30 L275.42,142.76 L276.39,142.21 L277.37,141.67 L278.35,141.12 L279.33,140.57 L280.32,140.02 L281.31,139.46 L282.30,138.90 L283.30,138.34 L284.30,137.77 L285.31,137.21 L286.32,136.64 L287.33,136.06 L288.35,135.49 L289.37,134.91 L290.40,134.33 L291.43,133.75 L292.46,133.16 L293.50,132.57 L294.54,131.98 L295.58,131.38 L296.63,130.79 L297.68,130.18 L298.74,129.58 L299.80,128.97 L300.86,128.36 L301.93,127.75 L303.00,127.14 L304.08,126.52 L305.16,125.90 L306.24,125.27 L307.33,124.65 L308.42,124.02 L309.52,123.38 L310.61,122.75 L311.72,122.11 L312.82,121.47 L313.93,120.82 L315.05,120.17 L316.17,119.52 L317.29,118.87 L318.41,118.21 L319.54,117.55 L320.68,116.89 L321.81,116.22 L322.95,115.55 L324.10,114.88 L325.25,114.20 L326.40,113.52 L327.56,112.84 L328.72,112.16 L329.88,111.47 L331.05,110.78 L332.22,110.08 L333.40,109.39 L334.58,108.68 L335.76,107.98 L336.95,107.27 L338.14,106.56 L339.33,105.85 L340.53,105.13 L341.73,104.41 L342.94,103.69 L344.15,102.96 L345.36,102.23 L346.58,101.49 L347.80,100.76 L349.03,100.02 L350.26,99.27 L351.49,98.53 L352.73,97.78 L353.97,97.02 L355.22,96.26 L356.46,95.50 L357.72,94.74 L358.97,93.97 L360.23,93.20 L361.50,92.43 L362.77,91.65 L364.04,90.87 L365.31,90.08 L366.59,89.29 L367.88,88.50 L369.16,87.71 L370.45,86.91 L371.75,86.11 L373.05,85.30 L374.35,84.49 L375.66,83.68 L376.97,82.86 L378.28,82.04 L379.60,81.22 L380.92,80.39 L382.25,79.56 L383.58,78.73 L384.91,77.89 L386.25,77.05 L387.59,76.20 L388.93,75.35 L390.28,74.50 L391.63,73.64 L392.99,72.78 L394.35,71.92 L395.72,71.05 L397.08,70.18 L398.46,69.31 L399.83,68.43 L401.21,67.54 L402.59,66.66 L403.98,65.77 L405.37,64.87 L406.77,63.98 L408.17,63.08 L409.57,62.17 L410.98,61.26 L412.39,60.35 L413.80,59.43 L415.22,58.51 L416.64,57.59 L418.07,56.66 L419.50,55.73 L420.93,54.79 L422.37,53.85 L423.81,52.91 L425.25,51.96 L426.70,51.01 L428.15,50.05 L429.61,49.09 L431.07,48.13 L432.54,47.16 L434.00,46.19 L435.48,45.21 L436.95,44.23 L438.43,43.25 L439.91,42.26 L441.40,41.27 L442.89,40.27 L444.39,39.27 L445.89,38.27 L447.39,37.26 L448.90,36.25 L450.41,35.23 L451.92,34.21 L453.44,33.19 L454.96,32.16 L456.49,31.13 L458.02,30.09 L459.55,29.05" stroke="#bf00bf" stroke-width="2.78" stroke-linecap="square" stroke-linejoin="round"/>
<path d="M153.23,223.30 L153.23,222.94 L153.24,222.58 L153.24,222.22 L153.25,221.85 L153.27,221.49 L153.28,221.13 L153.30,220.77 L153.32,220.41 L153.35,220.05 L153.37,219.69 L153.40,219.33 L153.44,218.97 L153.47,218.60 L153.51,218.24 L153.55,217.88 L153.60,217.52 L153.65,217.16 L153.70,216.80 L153.75,216.44 L153.81,216.08 L153.87,215.72 L153.93,215.36 L153.99,215.00 L154.06,214.64 L154.13,214.28 L154.21,213.92 L154.28,213.56 L154.36,213.21 L154.44,212.85 L154.53,212.49 L154.62,212.13 L154.71,211.77 L154.80,211.41 L154.90,211.06 L155.00,210.70 L155.10,210.34 L155.21,209.98 L155.31,209.63 L155.42,209.27 L155.54,208.91 L155.66,208.56 L155.78,208.20 L155.90,207.85 L156.02,207.49 L156.15,207.14 L156.28,206.78 L156.42,206.43 L156.55,206.07 L156.69,205.72 L156.84,205.36 L156.98,205.01 L157.13,204.66 L157.28,204.30 L157.44,203.95 L157.60,203.60 L157.76,203.25 L157.92,202.90 L158.08,202.54 L158.25,202.19 L158.43,201.84 L158.60,201.49 L158.78,201.14 L158.96,200.79 L159.14,200.44 L159.33,200.09 L159.52,199.74 L159.71,199.39 L159.90,199.05 L160.10,198.70 L160.30,198.35 L160.50,198.00 L160.71,197.66 L160.92,197.31 L161.13,196.96 L161.35,196.62 L161.57,196.27 L161.79,195.93 L162.01,195.58 L162.24,195.24 L162.47,194.89 L162.70,194.55 L162.93,194.20 L163.17,193.86 L163.41,193.52 L163.66,193.17 L163.90,192.83 L164.15,192.49 L164.41,192.15 L164.66,191.81 L164.92,191.46 L165.18,191.12 L165.44,190.78 L165.71,190.44 L165.98,190.10 L166.25,189.76 L166.53,189.42 L166.81,189.08 L167.09,188.74 L167.37,188.41 L167.66,188.07 L167.95,187.73 L168.24,187.39 L168.54,187.05 L168.84,186.72 L169.14,186.38 L169.44,186.04 L169.75,185.71 L170.06,185.37 L170.38,185.04 L170.69,184.70 L171.01,184.37 L171.33,184.03 L171.66,183.70 L171.98,183.36 L172.31,183.03 L172.65,182.69 L172.98,182.36 L173.32,182.03 L173.67,181.69 L174.01,181.36 L174.36,181.03 L174.71,180.69 L175.06,180.36 L175.42,180.03 L175.78,179.70 L176.14,179.37 L176.51,179.04 L176.87,178.70 L177.24,178.37 L177.62,178.04 L177.99,177.71 L178.37,177.38 L178.76,177.05 L179.14,176.72 L179.53,176.39 L179.92,176.06 L180.32,175.73 L180.71,175.40 L181.11,175.07 L181.51,174.74 L181.92,174.41 L182.33,174.08 L182.74,173.75 L183.15,173.42 L183.57,173.10 L183.99,172.77 L184.41,172.44 L184.84,172.11 L185.27,171.78 L185.70,171.45 L186.13,171.13 L186.57,170.80 L187.01,170.47 L187.45,170.14 L187.90,169.81 L188.35,169.48 L188.80,169.16 L189.26,168.83 L189.71,168.50 L190.17,168.17 L190.64,167.84 L191.10,167.52 L191.57,167.19 L192.04,166.86 L192.52,166.53 L193.00,166.21 L193.48,165.88 L193.96,165.55 L194.45,165.22 L194.94,164.89 L195.43,164.57 L195.92,164.24 L196.42,163.91 L196.92,163.58 L197.42,163.25 L197.93,162.92 L198.44,162.60 L198.95,162.27 L199.47,161.94 L199.99,161.61 L200.51,161.28 L201.03,160.95 L201.56,160.62 L202.09,160.30 L202.62,159.97 L203.15,159.64 L203.69,159.31 L204.23,158.98 L204.78,158.65 L205.33,158.32 L205.88,157.99 L206.43,157.66 L206.98,157.33 L207.54,157.00 L208.10,156.67 L208.67,156.33 L209.23,156.00 L209.80,155.67 L210.38,155.34 L210.95,155.01 L211.53,154.68 L212.11,154.35 L212.70,154.01 L213.29,153.68 L213.88,153.35 L214.47,153.01 L215.06,152.68 L215.66,152.35 L216.27,152.01 L216.87,151.68 L217.48,151.35 L218.09,151.01 L218.70,150.68 L219.32,150.34 L219.94,150.00 L220.56,149.67 L221.18,149.33 L221.81,149.00 L222.44,148.66 L223.08,148.32 L223.71,147.99 L224.35,147.65 L224.99,147.31 L225.64,146.97 L226.29,146.63 L226.94,146.29 L227.59,145.95 L228.25,145.62 L228.91,145.28 L229.57,144.93 L230.23,144.59 L230.90,144.25 L231.57,143.91 L232.25,143.57 L232.92,143.23 L233.60,142.88 L234.29,142.54 L234.97,142.20 L235.66,141.85 L236.35,141.51 L237.05,141.16 L237.74,140.82 L238.44,140.47 L239.15,140.13 L239.85,139.78 L240.56,139.44 L241.27,139.09 L241.99,138.74 L242.70,138.39 L243.42,138.04 L244.15,137.69 L244.87,137.34 L245.60,136.99 L246.33,136.64 L247.07,136.29 L247.80,135.94 L248.54,135.59 L249.29,135.24 L250.03,134.88 L250.78,134.53 L251.53,134.18 L252.29,133.82 L253.05,133.47 L253.81,133.11 L254.57,132.76 L255.34,132.40 L256.11,132.04 L256.88,131.68 L257.65,131.33 L258.43,130.97 L259.21,130.61 L259.99,130.25 L260.78,129.89 L261.57,129.53 L262.36,129.17 L263.16,128.81 L263.96,128.44 L264.76,128.08 L265.56,127.72 L266.37,127.35 L267.18,126.99 L267.99,126.62 L268.80,126.26 L269.62,125.89 L270.44,125.52 L271.27,125.15 L272.10,124.79 L272.92,124.42 L273.76,124.05 L274.59,123.68 L275.43,123.31 L276.27,122.94 L277.12,122.56 L277.96,122.19 L278.81,121.82 L279.67,121.44 L280.52,121.07 L281.38,120.70 L282.24,120.32 L283.11,119.94 L283.97,119.57 L284.84,119.19 L285.72,118.81 L286.59,118.43 L287.47,118.05 L288.35,117.67 L289.24,117.29 L290.13,116.91 L291.02,116.53 L291.91,116.14 L292.81,115.76 L293.71,115.38 L294.61,114.99 L295.51,114.61 L296.42,114.22 L297.33,113.83 L298.24,113.45 L299.16,113.06 L300.08,112.67 L301.00,112.28 L301.93,111.89 L302.85,111.50 L303.79,111.10 L304.72,110.71 L305.66,110.32 L306.59,109.93 L307.54,109.53 L308.48,109.14 L309.43,108.74 L310.38,108.34 L311.34,107.94 L312.29,107.55 L313.25,107.15 L314.21,106.75 L315.18,106.35 L316.15,105.95 L317.12,105.54 L318.09,105.14 L319.07,104.74 L320.05,104.33 L321.03,103.93 L322.02,103.52 L323.01,103.12 L324.00,102.71 L324.99,102.30 L325.99,101.89 L326.99,101.48 L327.99,101.07 L329.00,100.66 L330.01,100.25 L331.02,99.84 L332.03,99.43 L333.05,99.01 L334.07,98.60 L335.09,98.18 L336.12,97.77 L337.15,97.35 L338.18,96.93 L339.22,96.51 L340.25,96.09 L341.29,95.67 L342.34,95.25 L343.38,94.83 L344.43,94.41 L345.48,93.98 L346.54,93.56 L347.60,93.14 L348.66,92.71 L349.72,92.28 L350.79,91.86 L351.86,91.43 L352.93,91.00 L354.00,90.57 L355.08,90.14 L356.16,89.71 L357.25,89.27 L358.33,88.84 L359.42,88.41 L360.52,87.97 L361.61,87.54 L362.71,87.10 L363.81,86.66 L364.91,86.23 L366.02,85.79 L367.13,85.35 L368.24,84.91 L369.36,84.47 L370.48,84.02 L371.60,83.58 L372.72,83.14 L373.85,82.69 L374.98,82.25 L376.11,81.80 L377.25,81.35 L378.39,80.91 L379.53,80.46 L380.67,80.01 L381.82,79.56 L382.97,79.11" stroke="#bf00bf" stroke-width="2.78" stroke-dasharray="10.28 4.44"/>
<path d="M153.23,223.30 L153.23,223.66 L153.24,224.02 L153.24,224.38 L153.25,224.75 L153.27,225.11 L153.28,225.47 L153.30,225.83 L153.32,226.19 L153.35,226.55 L153.37,226.91 L153.40,227.27 L153.44,227.63 L153.47,228.00 L153.51,228.36 L153.55,228.72 L153.60,229.08 L153.65,229.44 L153.70,229.80 L153.75,230.16 L153.81,230.52 L153.87,230.88 L153.93,231.24 L153.99,231.60 L154.06,231.96 L154.13,232.32 L154.21,232.68 L154.28,233.04 L154.36,233.39 L154.44,233.75 L154.53,234.11 L154.62,234.47 L154.71,234.83 L154.80,235.19 L154.90,235.54 L155.00,235.90 L155.10,236.26 L155.21,236.62 L155.31,236.97 L155.42,237.33 L155.54,237.69 L155.66,238.04 L155.78,238.40 L155.90,238.75 L156.02,239.11 L156.15,239.46 L156.28,239.82 L156.42,240.17 L156.55,240.53 L156.69,240.88 L156.84,241.24 L156.98,241.59 L157.13,241.94 L157.28,242.30 L157.44,242.65 L157.60,243.00 L157.76,243.35 L157.92,243.70 L158.08,244.06 L158.25,244.41 L158.43,244.76 L158.60,245.11 L158.78,245.46 L158.96,245.81 L159.14,246.16 L159.33,246.51 L159.52,246.86 L159.71,247.21 L159.90,247.55 L160.10,247.90 L160.30,248.25 L160.50,248.60 L160.71,248.94 L160.92,249.29 L161.13,249.64 L161.35,249.98 L161.57,250.33 L161.79,250.67 L162.01,251.02 L162.24,251.36 L162.47,251.71 L162.70,252.05 L162.93,252.40 L163.17,252.74 L163.41,253.08 L163.66,253.43 L163.90,253.77 L164.15,254.11 L164.41,254.45 L164.66,254.79 L164.92,255.14 L165.18,255.48 L165.44,255.82 L165.71,256.16 L165.98,256.50 L166.25,256.84 L166.53,257.18 L166.81,257.52 L167.09,257.86 L167.37,258.19 L167.66,258.53 L167.95,258.87 L168.24,259.21 L168.54,259.55 L168.84,259.88 L169.14,260.22 L169.44,260.56 L169.75,260.89 L170.06,261.23 L170.38,261.56 L170.69,261.90 L171.01,262.23 L171.33,262.57 L171.66,262.90 L171.98,263.24 L172.31,263.57 L172.65,263.91 L172.98,264.24 L173.32,264.57 L173.67,264.91 L174.01,265.24 L174.36,265.57 L174.71,265.91 L175.06,266.24 L175.42,266.57 L175.78,266.90 L176.14,267.23 L176.51,267.56 L176.87,267.90 L177.24,268.23 L177.62,268.56 L177.99,268.89 L178.37,269.22 L178.76,269.55 L179.14,269.88 L179.53,270.21 L179.92,270.54 L180.32,270.87 L180.71,271.20 L181.11,271.53 L181.51,271.86 L181.92,272.19 L182.33,272.52 L182.74,272.85 L183.15,273.18 L183.57,273.50 L183.99,273.83 L184.41,274.16 L184.84,274.49 L185.27,274.82 L185.70,275.15 L186.13,275.47 L186.57,275.80 L187.01,276.13 L187.45,276.46 L187.90,276.79 L188.35,277.12 L188.80,277.44 L189.26,277.77 L189.71,278.10 L190.17,278.43 L190.64,278.76 L191.10,279.08 L191.57,279.41 L192.04,279.74 L192.52,280.07 L193.00,280.39 L193.48,280.72 L193.96,281.05 L194.45,281.38 L194.94,281.71 L195.43,282.03 L195.92,282.36 L196.42,282.69 L196.92,283.02 L197.42,283.35 L197.93,283.68 L198.44,284.00 L198.95,284.33 L199.47,284.66 L199.99,284.99 L200.51,285.32 L201.03,285.65 L201.56,285.98 L202.09,286.30 L202.62,286.63 L203.15,286.96 L203.69,287.29 L204.23,287.62 L204.78,287.95 L205.33,288.28 L205.88,288.61 L206.43,288.94 L206.98,289.27 L207.54,289.60 L208.10,289.93 L208.67,290.27 L209.23,290.60 L209.80,290.93 L210.38,291.26 L210.95,291.59 L211.53,291.92 L212.11,292.25 L212.70,292.59 L213.29,292.92 L213.88,293.25 L214.47,293.59 L215.06,293.92 L215.66,294.25 L216.27,294.59 L216.87,294.92 L217.48,295.25 L218.09,295.59 L218.70,295.92 L219.32,296.26 L219.94,296.60 L220.56,296.93 L221.18,297.27 L221.81,297.60 L222.44,297.94 L223.08,298.28 L223.71,298.61 L224.35,298.95 L224.99,299.29 L225.64,299.63 L226.29,299.97 L226.94,300.31 L227.59,300.65 L228.25,300.98 L228.91,301.32 L229.57,301.67 L230.23,302.01 L230.90,302.35 L231.57,302.69 L232.25,303.03 L232.92,303.37 L233.60,303.72 L234.29,304.06 L234.97,304.40 L235.66,304.75 L236.35,305.09 L237.05,305.44 L237.74,305.78 L238.44,306.13 L239.15,306.47 L239.85,306.82 L240.56,307.16 L241.27,307.51 L241.99,307.86 L242.70,308.21 L243.42,308.56 L244.15,308.91 L244.87,309.26 L245.60,309.61 L246.33,309.96 L247.07,310.31 L247.80,310.66 L248.54,311.01 L249.29,311.36 L250.03,311.72 L250.78,312.07 L251.53,312.42 L252.29,312.78 L253.05,313.13 L253.81,313.49 L254.57,313.84 L255.34,314.20 L256.11,314.56 L256.88,314.92 L257.65,315.27 L258.43,315.63 L259.21,315.99 L259.99,316.35 L260.78,316.71 L261.57,317.07 L262.36,317.43 L263.16,317.79 L263.96,318.16 L264.76,318.52 L265.56,318.88 L266.37,319.25 L267.18,319.61 L267.99,319.98 L268.80,320.34 L269.62,320.71 L270.44,321.08 L271.27,321.45 L272.10,321.81 L272.92,322.18 L273.76,322.55 L274.59,322.92 L275.43,323.29 L276.27,323.66 L277.12,324.04 L277.96,324.41 L278.81,324.78 L279.67,325.16 L280.52,325.53 L281.38,325.90 L282.24,326.28 L283.11,326.66 L283.97,327.03 L284.84,327.41 L285.72,327.79 L286.59,328.17 L287.47,328.55 L288.35,328.93 L289.24,329.31 L290.13,329.69 L291.02,330.07 L291.91,330.46 L292.81,330.84 L293.71,331.22 L294.61,331.61 L295.51,331.99 L296.42,332.38 L297.33,332.77 L298.24,333.15 L299.16,333.54 L300.08,333.93 L301.00,334.32 L301.93,334.71 L302.85,335.10 L303.79,335.50 L304.72,335.89 L305.66,336.28 L306.59,336.67 L307.54,337.07 L308.48,337.46 L309.43,337.86 L310.38,338.26 L311.34,338.66 L312.29,339.05 L313.25,339.45 L314.21,339.85 L315.18,340.25 L316.15,340.65 L317.12,341.06 L318.09,341.46 L319.07,341.86 L320.05,342.27 L321.03,342.67 L322.02,343.08 L323.01,343.48 L324.00,343.89 L324.99,344.30 L325.99,344.71 L326.99,345.12 L327.99,345.53 L329.00,345.94 L330.01,346.35 L331.02,346.76 L332.03,347.17 L333.05,347.59 L334.07,348.00 L335.09,348.42 L336.12,348.83 L337.15,349.25 L338.18,349.67 L339.22,350.09 L340.25,350.51 L341.29,350.93 L342.34,351.35 L343.38,351.77 L344.43,352.19 L345.48,352.62 L346.54,353.04 L347.60,353.46 L348.66,353.89 L349.72,354.32 L350.79,354.74 L351.86,355.17 L352.93,355.60 L354.00,356.03 L355.08,356.46 L356.16,356.89 L357.25,357.33 L358.33,357.76 L359.42,358.19 L360.52,358.63 L361.61,359.06 L362.71,359.50 L363.81,359.94 L364.91,360.37 L366.02,360.81 L367.13,361.25 L368.24,361.69 L369.36,362.13 L370.48,362.58 L371.60,363.02 L372.72,363.46 L373.85,363.91 L374.98,364.35 L376.11,364.80 L377.25,365.25 L378.39,365.69 L379.53,366.14 L380.67,366.59 L381.82,367.04 L382.97,367.49" stroke="#bf00bf" stroke-width="2.78" stroke-dasharray="10.28 4.44"/>
<path d="M382.97,79.11 L382.97,223.30" stroke="#bf00bf" stroke-width="2.78" stroke-dasharray="10.28 4.44"/>
<path d="M382.97,367.49 L382.97,223.30" stroke="#bf00bf" stroke-width="2.78" stroke-dasharray="10.28 4.44"/>
</g>
<path d="M57,9H479.35V10.6H57Z M57,436H479.35V437.6H57Z M57,9H58.35V437.6H57Z M478,9H479.35V437.6H478Z" fill="#000"/>
<path d="M76.65,436.65v-4.9M76.65,9.65v4.9M153.23,436.65v-4.9M153.23,9.65v4.9M229.81,436.65v-4.9M229.81,9.65v4.9M306.39,436.65v-4.9M306.39,9.65v4.9M382.97,436.65v-4.9M382.97,9.65v4.9M459.55,436.65v-4.9M459.55,9.65v4.9M57.65,389.80h4.9M478.65,389.80h-4.9M57.65,306.55h4.9M478.65,306.55h-4.9M57.65,223.30h4.9M478.65,223.30h-4.9M57.65,140.05h4.9M478.65,140.05h-4.9M57.65,56.80h4.9M478.65,56.80h-4.9" stroke="#000" stroke-width="1.2" fill="none"/>
<g font-family="Liberation Sans, sans-serif" fill="#000">
<text x="76.65" y="452.00" font-size="14.1" text-anchor="middle" textLength="21.2" lengthAdjust="spacingAndGlyphs">0.0</text>
<text x="153.23" y="452.00" font-size="14.1" text-anchor="middle" textLength="21.2" lengthAdjust="spacingAndGlyphs">0.5</text>
<text x="229.81" y="452.00" font-size="14.1" text-anchor="middle" textLength="21.2" lengthAdjust="spacingAndGlyphs">1.0</text>
<text x="306.39" y="452.00" font-size="14.1" text-anchor="middle" textLength="21.2" lengthAdjust="spacingAndGlyphs">1.5</text>
<text x="382.97" y="452.00" font-size="14.1" text-anchor="middle" textLength="21.2" lengthAdjust="spacingAndGlyphs">2.0</text>
<text x="459.55" y="452.00" font-size="14.1" text-anchor="middle" textLength="21.2" lengthAdjust="spacingAndGlyphs">2.5</text>
<text x="52.60" y="62.10" font-size="14.1" text-anchor="end">2</text>
<text x="52.60" y="145.35" font-size="14.1" text-anchor="end">1</text>
<text x="52.60" y="228.60" font-size="14.1" text-anchor="end">0</text>
<text x="52.60" y="311.85" font-size="14.1" text-anchor="end" textLength="19.2" lengthAdjust="spacingAndGlyphs">−1</text>
<text x="52.60" y="395.10" font-size="14.1" text-anchor="end" textLength="19.4" lengthAdjust="spacingAndGlyphs">−2</text>
<text x="207.60" y="472.80" font-size="16.9" text-anchor="start" textLength="121.5" lengthAdjust="spacingAndGlyphs">Areal radius, <tspan font-style="italic">x</tspan></text>
<text transform="translate(22.1,253.2) rotate(-90)" font-size="16.9" textLength="58.2" lengthAdjust="spacingAndGlyphs">Time, <tspan font-style="italic">t</tspan></text>
<path d="M70.4,27.90H98.2" stroke="#000" stroke-width="2.78" stroke-linecap="square"/>
<text x="109.90" y="32.80" font-size="14.1" text-anchor="start" textLength="98.1" lengthAdjust="spacingAndGlyphs">Schwarzschild</text>
<path d="M70.4,49.35H98.2" stroke="#0000ff" stroke-width="2.78" stroke-linecap="square"/>
<path d="M70.4,70.80H98.2" stroke="#bf00bf" stroke-width="2.78" stroke-linecap="square"/>
<text x="109.90" y="75.70" font-size="14.1" text-anchor="start" textLength="130.3" lengthAdjust="spacingAndGlyphs">Scale-independent</text>
<text x="109.3" y="54.25" font-size="14.1"><tspan font-style="italic">μ</tspan><tspan x="118.3" textLength="59.2" lengthAdjust="spacingAndGlyphs">-scheme</tspan></text>
<path d="M112.2,44.75h5.4" stroke="#000" stroke-width="1" fill="none"/>
<text y="389.6" font-size="14.1"><tspan x="107.0" font-style="italic" textLength="11.2" lengthAdjust="spacingAndGlyphs">M</tspan><tspan x="122.0" textLength="10.6" lengthAdjust="spacingAndGlyphs">=</tspan><tspan x="136.6">1,</tspan><tspan x="154.4" font-style="italic">L</tspan><tspan x="161.8" dy="2.4" font-size="10.6">0</tspan><tspan x="171.3" dy="-2.4" textLength="10.6" lengthAdjust="spacingAndGlyphs">=</tspan><tspan x="186.2" textLength="21.0" lengthAdjust="spacingAndGlyphs">0.5</tspan></text>
</g>
</svg>
</body></html>
